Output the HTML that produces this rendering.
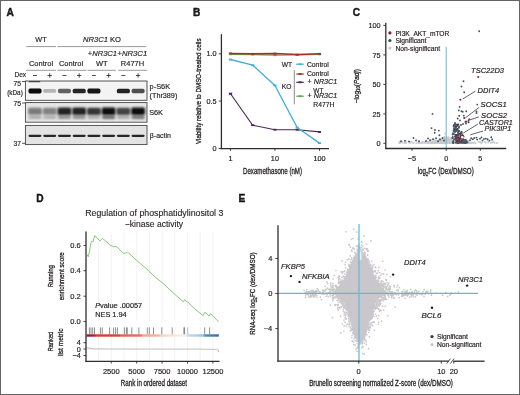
<!DOCTYPE html>
<html><head><meta charset="utf-8"><style>
html,body{margin:0;padding:0;background:#fff;}
svg{display:block;will-change:transform;}
text{font-family:"Liberation Sans", sans-serif;fill:#231f20;stroke:#231f20;stroke-width:0.18px;}
text.cd{stroke-width:0.3px;}
text.nt{stroke-width:0.12px;}
text.pl{stroke:#000;stroke-width:0.35px;}
</style></head><body>
<svg width="520" height="395" viewBox="0 0 520 395">
<defs><filter id="soft" filterUnits="userSpaceOnUse" x="0" y="0" width="520" height="395"><feGaussianBlur stdDeviation="0.3"/></filter></defs>
<rect x="0" y="0" width="520" height="395" fill="#fff"/>
<g filter="url(#soft)">
<text x="6.40" y="15.70" font-size="10.2" font-weight="bold" fill="#000" class="pl">A</text>
<text x="193.00" y="15.70" font-size="10.2" font-weight="bold" fill="#000" class="pl">B</text>
<text x="352.70" y="15.70" font-size="10.2" font-weight="bold" fill="#000" class="pl">C</text>
<text x="36.20" y="201.60" font-size="10.2" font-weight="bold" fill="#000" class="pl">D</text>
<text x="238.50" y="201.60" font-size="10.2" font-weight="bold" fill="#000" class="pl">E</text>
<text x="41.00" y="42.30" font-size="8.1" text-anchor="middle" textLength="11.30" lengthAdjust="spacingAndGlyphs">WT</text>
<text x="83.00" y="42.30" font-size="8.1" textLength="38.00" lengthAdjust="spacingAndGlyphs"><tspan font-style="italic">NR3C1</tspan> KO</text>
<line x1="26.20" y1="46.60" x2="56.00" y2="46.60" stroke="#9a9a9a" stroke-width="1.0"/>
<line x1="57.40" y1="46.60" x2="146.20" y2="46.60" stroke="#9a9a9a" stroke-width="1.0"/>
<text x="87.70" y="56.20" font-size="8.1" textLength="29.40" lengthAdjust="spacingAndGlyphs">+<tspan font-style="italic">NR3C1</tspan></text>
<text x="117.40" y="56.20" font-size="8.1" textLength="29.80" lengthAdjust="spacingAndGlyphs">+<tspan font-style="italic">NR3C1</tspan></text>
<text x="41.00" y="65.50" font-size="8.1" text-anchor="middle" textLength="24.10" lengthAdjust="spacingAndGlyphs">Control</text>
<text x="71.00" y="65.50" font-size="8.1" text-anchor="middle" textLength="24.10" lengthAdjust="spacingAndGlyphs">Control</text>
<text x="101.80" y="65.50" font-size="8.1" text-anchor="middle" textLength="11.70" lengthAdjust="spacingAndGlyphs">WT</text>
<text x="132.50" y="65.50" font-size="8.1" text-anchor="middle" textLength="23.40" lengthAdjust="spacingAndGlyphs">R477H</text>
<line x1="26.20" y1="70.30" x2="56.00" y2="70.30" stroke="#9a9a9a" stroke-width="1.0"/>
<line x1="57.40" y1="70.30" x2="86.50" y2="70.30" stroke="#9a9a9a" stroke-width="1.0"/>
<line x1="87.50" y1="70.30" x2="116.00" y2="70.30" stroke="#9a9a9a" stroke-width="1.0"/>
<line x1="118.20" y1="70.30" x2="147.20" y2="70.30" stroke="#9a9a9a" stroke-width="1.0"/>
<text x="26.20" y="77.30" font-size="8.1" text-anchor="end" textLength="11.80" lengthAdjust="spacingAndGlyphs">Dex</text>
<line x1="33.00" y1="75.50" x2="37.00" y2="75.50" stroke="#231f20" stroke-width="0.8"/>
<line x1="47.53" y1="75.50" x2="51.93" y2="75.50" stroke="#231f20" stroke-width="0.8"/>
<line x1="49.73" y1="73.30" x2="49.73" y2="77.70" stroke="#231f20" stroke-width="0.8"/>
<line x1="62.46" y1="75.50" x2="66.46" y2="75.50" stroke="#231f20" stroke-width="0.8"/>
<line x1="76.99" y1="75.50" x2="81.39" y2="75.50" stroke="#231f20" stroke-width="0.8"/>
<line x1="79.19" y1="73.30" x2="79.19" y2="77.70" stroke="#231f20" stroke-width="0.8"/>
<line x1="91.92" y1="75.50" x2="95.92" y2="75.50" stroke="#231f20" stroke-width="0.8"/>
<line x1="106.45" y1="75.50" x2="110.85" y2="75.50" stroke="#231f20" stroke-width="0.8"/>
<line x1="108.65" y1="73.30" x2="108.65" y2="77.70" stroke="#231f20" stroke-width="0.8"/>
<line x1="121.38" y1="75.50" x2="125.38" y2="75.50" stroke="#231f20" stroke-width="0.8"/>
<line x1="135.91" y1="75.50" x2="140.31" y2="75.50" stroke="#231f20" stroke-width="0.8"/>
<line x1="138.11" y1="73.30" x2="138.11" y2="77.70" stroke="#231f20" stroke-width="0.8"/>
<defs><filter id="bl" x="-20%" y="-80%" width="140%" height="260%"><feGaussianBlur stdDeviation="0.55"/></filter><filter id="bl2" x="-20%" y="-80%" width="140%" height="260%"><feGaussianBlur stdDeviation="0.85"/></filter></defs>
<rect x="25.40" y="81.00" width="121.60" height="19.30" fill="#f3f3f3"/>
<rect x="25.40" y="102.60" width="121.60" height="19.60" fill="#e6e6e6"/>
<rect x="25.40" y="125.40" width="121.60" height="19.20" fill="#e3e3e3"/>
<rect x="28.50" y="88.60" width="13.00" height="4.80" rx="1.60" fill="rgb(13,13,13)" filter="url(#bl)"/>
<rect x="43.23" y="89.12" width="13.00" height="3.75" rx="1.60" fill="rgb(181,181,181)" filter="url(#bl)"/>
<rect x="57.96" y="88.87" width="13.00" height="4.27" rx="1.60" fill="rgb(98,98,98)" filter="url(#bl)"/>
<rect x="72.69" y="88.68" width="13.00" height="4.63" rx="1.60" fill="rgb(40,40,40)" filter="url(#bl)"/>
<rect x="87.42" y="88.62" width="13.00" height="4.76" rx="1.60" fill="rgb(19,19,19)" filter="url(#bl)"/>
<rect x="116.88" y="88.67" width="13.00" height="4.66" rx="1.60" fill="rgb(35,35,35)" filter="url(#bl)"/>
<rect x="131.61" y="88.81" width="13.00" height="4.38" rx="1.60" fill="rgb(80,80,80)" filter="url(#bl)"/>
<rect x="28.75" y="81.10" width="11.50" height="1.20" rx="0.60" fill="rgb(69,69,69)" filter="url(#bl)"/>
<rect x="28.40" y="115.60" width="13.20" height="3.40" rx="1.60" fill="rgb(170,170,170)" filter="url(#bl2)"/>
<rect x="28.10" y="107.84" width="13.80" height="6.93" rx="1.60" fill="rgb(121,121,121)" filter="url(#bl2)"/>
<rect x="43.13" y="115.60" width="13.20" height="3.40" rx="1.60" fill="rgb(175,175,175)" filter="url(#bl2)"/>
<rect x="42.83" y="107.86" width="13.80" height="6.87" rx="1.60" fill="rgb(130,130,130)" filter="url(#bl2)"/>
<rect x="57.86" y="115.60" width="13.20" height="3.40" rx="1.60" fill="rgb(143,143,143)" filter="url(#bl2)"/>
<rect x="57.56" y="107.57" width="13.80" height="7.46" rx="1.60" fill="rgb(35,35,35)" filter="url(#bl2)"/>
<rect x="72.59" y="115.60" width="13.20" height="3.40" rx="1.60" fill="rgb(143,143,143)" filter="url(#bl2)"/>
<rect x="72.29" y="107.57" width="13.80" height="7.46" rx="1.60" fill="rgb(35,35,35)" filter="url(#bl2)"/>
<rect x="87.32" y="115.60" width="13.20" height="3.40" rx="1.60" fill="rgb(170,170,170)" filter="url(#bl2)"/>
<rect x="87.02" y="107.63" width="13.80" height="7.35" rx="1.60" fill="rgb(53,53,53)" filter="url(#bl2)"/>
<rect x="102.05" y="115.60" width="13.20" height="3.40" rx="1.60" fill="rgb(103,103,103)" filter="url(#bl2)"/>
<rect x="101.75" y="107.50" width="13.80" height="7.60" rx="1.60" fill="rgb(13,13,13)" filter="url(#bl2)"/>
<rect x="116.78" y="115.60" width="13.20" height="3.40" rx="1.60" fill="rgb(170,170,170)" filter="url(#bl2)"/>
<rect x="116.48" y="107.67" width="13.80" height="7.26" rx="1.60" fill="rgb(67,67,67)" filter="url(#bl2)"/>
<rect x="131.51" y="115.60" width="13.20" height="3.40" rx="1.60" fill="rgb(114,114,114)" filter="url(#bl2)"/>
<rect x="131.21" y="107.50" width="13.80" height="7.60" rx="1.60" fill="rgb(13,13,13)" filter="url(#bl2)"/>
<rect x="28.50" y="134.65" width="13.00" height="2.30" rx="1.15" fill="rgb(40,40,40)" filter="url(#bl)"/>
<rect x="43.23" y="134.65" width="13.00" height="2.30" rx="1.15" fill="rgb(40,40,40)" filter="url(#bl)"/>
<rect x="57.96" y="134.65" width="13.00" height="2.30" rx="1.15" fill="rgb(40,40,40)" filter="url(#bl)"/>
<rect x="72.69" y="134.65" width="13.00" height="2.30" rx="1.15" fill="rgb(40,40,40)" filter="url(#bl)"/>
<rect x="87.42" y="134.65" width="13.00" height="2.30" rx="1.15" fill="rgb(40,40,40)" filter="url(#bl)"/>
<rect x="102.15" y="134.65" width="13.00" height="2.30" rx="1.15" fill="rgb(40,40,40)" filter="url(#bl)"/>
<rect x="116.88" y="134.65" width="13.00" height="2.30" rx="1.15" fill="rgb(40,40,40)" filter="url(#bl)"/>
<rect x="131.61" y="134.65" width="13.00" height="2.30" rx="1.15" fill="rgb(40,40,40)" filter="url(#bl)"/>
<rect x="25.4" y="81.00" width="121.6" height="19.30" fill="none" stroke="#444" stroke-width="0.9"/>
<rect x="25.4" y="102.60" width="121.6" height="19.60" fill="none" stroke="#444" stroke-width="0.9"/>
<rect x="25.4" y="125.40" width="121.6" height="19.20" fill="none" stroke="#444" stroke-width="0.9"/>
<text x="21.00" y="85.90" font-size="7.9" text-anchor="end" textLength="7.60" lengthAdjust="spacingAndGlyphs">75</text>
<line x1="22.00" y1="81.50" x2="25.40" y2="81.50" stroke="#2e2e2e" stroke-width="0.8"/>
<text x="7.20" y="94.60" font-size="7.9" textLength="15.60" lengthAdjust="spacingAndGlyphs">(kDa)</text>
<text x="21.00" y="105.70" font-size="7.9" text-anchor="end" textLength="7.60" lengthAdjust="spacingAndGlyphs">75</text>
<line x1="22.00" y1="103.00" x2="25.40" y2="103.00" stroke="#2e2e2e" stroke-width="0.8"/>
<text x="21.00" y="145.50" font-size="7.9" text-anchor="end" textLength="7.60" lengthAdjust="spacingAndGlyphs">37</text>
<line x1="22.00" y1="143.30" x2="25.40" y2="143.30" stroke="#2e2e2e" stroke-width="0.8"/>
<text x="149.60" y="88.50" font-size="7.9" textLength="20.60" lengthAdjust="spacingAndGlyphs">p-S6K</text>
<text x="149.60" y="98.00" font-size="7.9" textLength="27.70" lengthAdjust="spacingAndGlyphs">(Thr389)</text>
<text x="149.20" y="115.30" font-size="7.9" textLength="13.80" lengthAdjust="spacingAndGlyphs">S6K</text>
<text x="149.80" y="138.20" font-size="7.9" textLength="21.20" lengthAdjust="spacingAndGlyphs">β-actin</text>
<line x1="221.40" y1="34.20" x2="221.40" y2="149.20" stroke="#2e2e2e" stroke-width="1.3"/>
<line x1="220.80" y1="148.60" x2="329.00" y2="148.60" stroke="#2e2e2e" stroke-width="1.3"/>
<line x1="218.80" y1="53.80" x2="221.30" y2="53.80" stroke="#2e2e2e" stroke-width="0.9"/>
<text x="216.60" y="56.40" font-size="7.3" text-anchor="end">1.0</text>
<line x1="218.80" y1="101.10" x2="221.30" y2="101.10" stroke="#2e2e2e" stroke-width="0.9"/>
<text x="216.60" y="103.70" font-size="7.3" text-anchor="end">0.5</text>
<line x1="218.80" y1="148.50" x2="221.30" y2="148.50" stroke="#2e2e2e" stroke-width="0.9"/>
<text x="216.60" y="151.10" font-size="7.3" text-anchor="end">0</text>
<line x1="230.50" y1="148.60" x2="230.50" y2="150.80" stroke="#2e2e2e" stroke-width="0.9"/>
<text x="230.50" y="161.20" font-size="7.3" text-anchor="middle">1</text>
<line x1="274.90" y1="148.60" x2="274.90" y2="150.80" stroke="#2e2e2e" stroke-width="0.9"/>
<text x="274.90" y="161.20" font-size="7.3" text-anchor="middle">10</text>
<line x1="319.50" y1="148.60" x2="319.50" y2="150.80" stroke="#2e2e2e" stroke-width="0.9"/>
<text x="319.50" y="161.20" font-size="7.3" text-anchor="middle">100</text>
<text x="200.60" y="91.20" font-size="8" text-anchor="middle" class="cd" textLength="105.50" lengthAdjust="spacingAndGlyphs" transform="rotate(-90 200.60 91.20)">Viability relative to DMSO-treated cells</text>
<text x="272.50" y="173.90" font-size="8.4" text-anchor="middle" class="cd" textLength="59.00" lengthAdjust="spacingAndGlyphs">Dexamethasone (nM)</text>
<polyline points="230.50,54.30 252.70,54.50 274.90,55.20 297.20,54.90 319.50,54.40" fill="none" stroke="#5aaa4a" stroke-width="1.3"/>
<rect x="228.90" y="53.40" width="3.20" height="1.80" fill="#5aaa4a"/>
<rect x="251.10" y="53.60" width="3.20" height="1.80" fill="#5aaa4a"/>
<rect x="273.30" y="54.30" width="3.20" height="1.80" fill="#5aaa4a"/>
<rect x="295.60" y="54.00" width="3.20" height="1.80" fill="#5aaa4a"/>
<rect x="317.90" y="53.50" width="3.20" height="1.80" fill="#5aaa4a"/>
<polyline points="230.50,53.40 252.70,53.80 274.90,53.60 297.20,54.60 319.50,53.80" fill="none" stroke="#a82e2a" stroke-width="1.5"/>
<rect x="228.90" y="52.50" width="3.20" height="1.80" fill="#a82e2a"/>
<rect x="251.10" y="52.90" width="3.20" height="1.80" fill="#a82e2a"/>
<rect x="273.30" y="52.70" width="3.20" height="1.80" fill="#a82e2a"/>
<rect x="295.60" y="53.70" width="3.20" height="1.80" fill="#a82e2a"/>
<rect x="317.90" y="52.90" width="3.20" height="1.80" fill="#a82e2a"/>
<polyline points="230.50,93.80 252.70,125.20 274.90,129.70 297.20,129.70 319.50,131.90" fill="none" stroke="#4b2358" stroke-width="1.1"/>
<rect x="228.90" y="92.90" width="3.20" height="1.80" fill="#4b2358"/>
<rect x="251.10" y="124.30" width="3.20" height="1.80" fill="#4b2358"/>
<rect x="273.30" y="128.80" width="3.20" height="1.80" fill="#4b2358"/>
<rect x="295.60" y="128.80" width="3.20" height="1.80" fill="#4b2358"/>
<rect x="317.90" y="131.00" width="3.20" height="1.80" fill="#4b2358"/>
<polyline points="230.50,59.50 252.70,65.20 274.90,85.40 297.20,127.60 319.50,143.10" fill="none" stroke="#45aee0" stroke-width="1.3"/>
<rect x="228.90" y="58.60" width="3.20" height="1.80" fill="#45aee0"/>
<rect x="251.10" y="64.30" width="3.20" height="1.80" fill="#45aee0"/>
<rect x="273.30" y="84.50" width="3.20" height="1.80" fill="#45aee0"/>
<rect x="295.60" y="126.70" width="3.20" height="1.80" fill="#45aee0"/>
<rect x="317.90" y="142.20" width="3.20" height="1.80" fill="#45aee0"/>
<line x1="229.00" y1="92.30" x2="232.00" y2="95.30" stroke="#4b2358" stroke-width="0.6"/>
<line x1="229.00" y1="95.30" x2="232.00" y2="92.30" stroke="#4b2358" stroke-width="0.6"/>
<text x="281.80" y="66.80" font-size="7.5" textLength="10.40" lengthAdjust="spacingAndGlyphs">WT</text>
<line x1="296.00" y1="64.20" x2="303.80" y2="64.20" stroke="#45aee0" stroke-width="1.2"/>
<rect x="298.60" y="63.30" width="3.00" height="1.80" fill="#45aee0"/>
<text x="306.90" y="66.60" font-size="7.5" textLength="22.00" lengthAdjust="spacingAndGlyphs">Control</text>
<line x1="294.30" y1="70.20" x2="294.30" y2="104.30" stroke="#8c8c8c" stroke-width="1"/>
<text x="281.80" y="88.70" font-size="7.5" textLength="9.60" lengthAdjust="spacingAndGlyphs">KO</text>
<line x1="296.30" y1="74.00" x2="303.80" y2="74.00" stroke="#a82e2a" stroke-width="1.2"/>
<rect x="298.60" y="73.10" width="3.00" height="1.80" fill="#a82e2a"/>
<text x="306.90" y="76.40" font-size="7.5" textLength="22.00" lengthAdjust="spacingAndGlyphs">Control</text>
<line x1="296.30" y1="82.30" x2="303.80" y2="82.30" stroke="#4b2358" stroke-width="1.2"/>
<rect x="298.60" y="81.40" width="3.00" height="1.80" fill="#4b2358"/>
<text x="307.50" y="84.40" font-size="7.5" textLength="29.80" lengthAdjust="spacingAndGlyphs">+ <tspan font-style="italic">NR3C1</tspan></text>
<text x="313.30" y="92.80" font-size="7.5" textLength="10.10" lengthAdjust="spacingAndGlyphs">WT</text>
<line x1="296.30" y1="96.20" x2="303.80" y2="96.20" stroke="#5aaa4a" stroke-width="1.2"/>
<rect x="298.60" y="95.30" width="3.00" height="1.80" fill="#5aaa4a"/>
<text x="307.50" y="98.20" font-size="7.5" textLength="29.80" lengthAdjust="spacingAndGlyphs">+ <tspan font-style="italic">NR3C1</tspan></text>
<text x="313.30" y="106.70" font-size="7.5" textLength="21.10" lengthAdjust="spacingAndGlyphs">R477H</text>
<circle cx="436.99" cy="142.65" r="0.9" fill="#c9c9cc"/>
<circle cx="448.12" cy="140.90" r="0.9" fill="#c9c9cc"/>
<circle cx="428.41" cy="141.93" r="0.9" fill="#c9c9cc"/>
<circle cx="457.74" cy="142.26" r="0.9" fill="#c9c9cc"/>
<circle cx="466.82" cy="142.52" r="0.9" fill="#c9c9cc"/>
<circle cx="399.81" cy="142.09" r="0.9" fill="#c9c9cc"/>
<circle cx="422.32" cy="143.23" r="0.9" fill="#c9c9cc"/>
<circle cx="454.45" cy="142.80" r="0.9" fill="#c9c9cc"/>
<circle cx="438.59" cy="141.73" r="0.9" fill="#c9c9cc"/>
<circle cx="440.34" cy="141.33" r="0.9" fill="#c9c9cc"/>
<circle cx="445.81" cy="141.64" r="0.9" fill="#c9c9cc"/>
<circle cx="445.50" cy="139.80" r="0.9" fill="#c9c9cc"/>
<circle cx="454.73" cy="141.13" r="0.9" fill="#c9c9cc"/>
<circle cx="451.36" cy="140.39" r="0.9" fill="#c9c9cc"/>
<circle cx="450.15" cy="141.14" r="0.9" fill="#c9c9cc"/>
<circle cx="431.31" cy="142.47" r="0.9" fill="#c9c9cc"/>
<circle cx="422.76" cy="142.90" r="0.9" fill="#c9c9cc"/>
<circle cx="448.33" cy="142.13" r="0.9" fill="#c9c9cc"/>
<circle cx="454.85" cy="142.17" r="0.9" fill="#c9c9cc"/>
<circle cx="440.05" cy="142.03" r="0.9" fill="#c9c9cc"/>
<circle cx="452.00" cy="142.26" r="0.9" fill="#c9c9cc"/>
<circle cx="450.08" cy="141.66" r="0.9" fill="#c9c9cc"/>
<circle cx="496.44" cy="143.11" r="0.9" fill="#c9c9cc"/>
<circle cx="451.86" cy="142.17" r="0.9" fill="#c9c9cc"/>
<circle cx="449.13" cy="143.00" r="0.9" fill="#c9c9cc"/>
<circle cx="456.39" cy="140.72" r="0.9" fill="#c9c9cc"/>
<circle cx="436.41" cy="143.13" r="0.9" fill="#c9c9cc"/>
<circle cx="450.17" cy="142.07" r="0.9" fill="#c9c9cc"/>
<circle cx="450.76" cy="140.73" r="0.9" fill="#c9c9cc"/>
<circle cx="463.60" cy="142.42" r="0.9" fill="#c9c9cc"/>
<circle cx="402.16" cy="142.54" r="0.9" fill="#c9c9cc"/>
<circle cx="444.91" cy="139.76" r="0.9" fill="#c9c9cc"/>
<circle cx="469.76" cy="142.80" r="0.9" fill="#c9c9cc"/>
<circle cx="451.12" cy="142.06" r="0.9" fill="#c9c9cc"/>
<circle cx="437.89" cy="142.54" r="0.9" fill="#c9c9cc"/>
<circle cx="452.13" cy="142.69" r="0.9" fill="#c9c9cc"/>
<circle cx="447.94" cy="142.38" r="0.9" fill="#c9c9cc"/>
<circle cx="435.94" cy="141.60" r="0.9" fill="#c9c9cc"/>
<circle cx="436.58" cy="143.09" r="0.9" fill="#c9c9cc"/>
<circle cx="462.62" cy="143.04" r="0.9" fill="#c9c9cc"/>
<circle cx="447.72" cy="140.34" r="0.9" fill="#c9c9cc"/>
<circle cx="447.56" cy="142.88" r="0.9" fill="#c9c9cc"/>
<circle cx="434.41" cy="142.80" r="0.9" fill="#c9c9cc"/>
<circle cx="445.25" cy="140.10" r="0.9" fill="#c9c9cc"/>
<circle cx="442.63" cy="139.92" r="0.9" fill="#c9c9cc"/>
<circle cx="434.66" cy="142.37" r="0.9" fill="#c9c9cc"/>
<circle cx="436.75" cy="142.44" r="0.9" fill="#c9c9cc"/>
<circle cx="461.74" cy="141.12" r="0.9" fill="#c9c9cc"/>
<circle cx="445.55" cy="139.89" r="0.9" fill="#c9c9cc"/>
<circle cx="439.12" cy="141.80" r="0.9" fill="#c9c9cc"/>
<circle cx="457.96" cy="142.54" r="0.9" fill="#c9c9cc"/>
<circle cx="446.85" cy="141.79" r="0.9" fill="#c9c9cc"/>
<circle cx="428.18" cy="142.91" r="0.9" fill="#c9c9cc"/>
<circle cx="488.15" cy="142.66" r="0.9" fill="#c9c9cc"/>
<circle cx="441.85" cy="141.49" r="0.9" fill="#c9c9cc"/>
<circle cx="441.06" cy="140.29" r="0.9" fill="#c9c9cc"/>
<circle cx="451.61" cy="142.36" r="0.9" fill="#c9c9cc"/>
<circle cx="449.92" cy="139.98" r="0.9" fill="#c9c9cc"/>
<circle cx="441.76" cy="140.14" r="0.9" fill="#c9c9cc"/>
<circle cx="453.39" cy="142.41" r="0.9" fill="#c9c9cc"/>
<circle cx="440.02" cy="141.15" r="0.9" fill="#c9c9cc"/>
<circle cx="428.13" cy="143.06" r="0.9" fill="#c9c9cc"/>
<circle cx="447.06" cy="140.90" r="0.9" fill="#c9c9cc"/>
<circle cx="440.36" cy="142.42" r="0.9" fill="#c9c9cc"/>
<circle cx="446.69" cy="140.74" r="0.9" fill="#c9c9cc"/>
<circle cx="460.72" cy="142.72" r="0.9" fill="#c9c9cc"/>
<circle cx="436.18" cy="142.76" r="0.9" fill="#c9c9cc"/>
<circle cx="428.44" cy="142.92" r="0.9" fill="#c9c9cc"/>
<circle cx="399.39" cy="141.64" r="0.9" fill="#c9c9cc"/>
<circle cx="425.33" cy="142.37" r="0.9" fill="#c9c9cc"/>
<circle cx="455.79" cy="141.80" r="0.9" fill="#c9c9cc"/>
<circle cx="435.74" cy="142.13" r="0.9" fill="#c9c9cc"/>
<circle cx="461.12" cy="142.02" r="0.9" fill="#c9c9cc"/>
<circle cx="451.87" cy="141.67" r="0.9" fill="#c9c9cc"/>
<circle cx="442.28" cy="140.31" r="0.9" fill="#c9c9cc"/>
<circle cx="454.09" cy="142.67" r="0.9" fill="#c9c9cc"/>
<circle cx="457.76" cy="142.24" r="0.9" fill="#c9c9cc"/>
<circle cx="487.58" cy="140.40" r="0.9" fill="#c9c9cc"/>
<circle cx="443.67" cy="141.70" r="0.9" fill="#c9c9cc"/>
<circle cx="458.70" cy="142.18" r="0.9" fill="#c9c9cc"/>
<circle cx="453.24" cy="142.64" r="0.9" fill="#c9c9cc"/>
<circle cx="478.57" cy="141.55" r="0.9" fill="#c9c9cc"/>
<circle cx="431.55" cy="143.16" r="0.9" fill="#c9c9cc"/>
<circle cx="449.55" cy="140.26" r="0.9" fill="#c9c9cc"/>
<circle cx="439.45" cy="140.63" r="0.9" fill="#c9c9cc"/>
<circle cx="450.55" cy="140.96" r="0.9" fill="#c9c9cc"/>
<circle cx="440.32" cy="141.58" r="0.9" fill="#c9c9cc"/>
<circle cx="443.81" cy="139.12" r="0.9" fill="#c9c9cc"/>
<circle cx="450.01" cy="139.58" r="0.9" fill="#c9c9cc"/>
<circle cx="451.47" cy="141.82" r="0.9" fill="#c9c9cc"/>
<circle cx="465.77" cy="142.81" r="0.9" fill="#c9c9cc"/>
<circle cx="435.23" cy="142.18" r="0.9" fill="#c9c9cc"/>
<circle cx="451.75" cy="141.11" r="0.9" fill="#c9c9cc"/>
<circle cx="455.93" cy="143.03" r="0.9" fill="#c9c9cc"/>
<circle cx="451.80" cy="141.60" r="0.9" fill="#c9c9cc"/>
<circle cx="441.19" cy="141.36" r="0.9" fill="#c9c9cc"/>
<circle cx="449.73" cy="142.14" r="0.9" fill="#c9c9cc"/>
<circle cx="466.46" cy="142.86" r="0.9" fill="#c9c9cc"/>
<circle cx="452.54" cy="141.13" r="0.9" fill="#c9c9cc"/>
<circle cx="452.65" cy="142.10" r="0.9" fill="#c9c9cc"/>
<circle cx="454.96" cy="142.29" r="0.9" fill="#c9c9cc"/>
<circle cx="460.93" cy="143.19" r="0.9" fill="#c9c9cc"/>
<circle cx="440.24" cy="140.96" r="0.9" fill="#c9c9cc"/>
<circle cx="471.79" cy="142.45" r="0.9" fill="#c9c9cc"/>
<circle cx="431.12" cy="142.35" r="0.9" fill="#c9c9cc"/>
<circle cx="497.34" cy="142.87" r="0.9" fill="#c9c9cc"/>
<circle cx="470.38" cy="143.27" r="0.9" fill="#c9c9cc"/>
<circle cx="449.59" cy="140.46" r="0.9" fill="#c9c9cc"/>
<circle cx="451.57" cy="141.86" r="0.9" fill="#c9c9cc"/>
<circle cx="446.76" cy="138.14" r="0.9" fill="#c9c9cc"/>
<circle cx="452.88" cy="141.34" r="0.9" fill="#c9c9cc"/>
<circle cx="405.32" cy="143.07" r="0.9" fill="#c9c9cc"/>
<circle cx="447.49" cy="141.70" r="0.9" fill="#c9c9cc"/>
<circle cx="481.65" cy="142.76" r="0.9" fill="#c9c9cc"/>
<circle cx="404.46" cy="143.15" r="0.9" fill="#c9c9cc"/>
<circle cx="454.19" cy="142.70" r="0.9" fill="#c9c9cc"/>
<circle cx="453.68" cy="141.66" r="0.9" fill="#c9c9cc"/>
<circle cx="457.85" cy="143.16" r="0.9" fill="#c9c9cc"/>
<circle cx="449.66" cy="141.47" r="0.9" fill="#c9c9cc"/>
<circle cx="449.16" cy="140.76" r="0.9" fill="#c9c9cc"/>
<circle cx="449.95" cy="140.79" r="0.9" fill="#c9c9cc"/>
<circle cx="440.64" cy="140.20" r="0.9" fill="#c9c9cc"/>
<circle cx="448.16" cy="142.42" r="0.9" fill="#c9c9cc"/>
<circle cx="433.15" cy="141.42" r="0.9" fill="#c9c9cc"/>
<circle cx="455.16" cy="142.25" r="0.9" fill="#c9c9cc"/>
<circle cx="446.93" cy="140.59" r="0.9" fill="#c9c9cc"/>
<circle cx="449.15" cy="142.21" r="0.9" fill="#c9c9cc"/>
<circle cx="492.01" cy="142.16" r="0.9" fill="#c9c9cc"/>
<circle cx="442.76" cy="140.89" r="0.9" fill="#c9c9cc"/>
<circle cx="442.27" cy="141.78" r="0.9" fill="#c9c9cc"/>
<circle cx="442.36" cy="139.77" r="0.9" fill="#c9c9cc"/>
<circle cx="447.69" cy="141.42" r="0.9" fill="#c9c9cc"/>
<circle cx="450.91" cy="142.37" r="0.9" fill="#c9c9cc"/>
<circle cx="449.52" cy="141.57" r="0.9" fill="#c9c9cc"/>
<circle cx="455.74" cy="142.84" r="0.9" fill="#c9c9cc"/>
<circle cx="457.58" cy="143.28" r="0.9" fill="#c9c9cc"/>
<circle cx="443.92" cy="141.08" r="0.9" fill="#c9c9cc"/>
<circle cx="450.48" cy="139.43" r="0.9" fill="#c9c9cc"/>
<circle cx="452.72" cy="141.71" r="0.9" fill="#c9c9cc"/>
<circle cx="442.10" cy="141.68" r="0.9" fill="#c9c9cc"/>
<circle cx="443.92" cy="142.98" r="0.9" fill="#c9c9cc"/>
<circle cx="473.17" cy="142.99" r="0.9" fill="#c9c9cc"/>
<circle cx="433.83" cy="141.85" r="0.9" fill="#c9c9cc"/>
<circle cx="467.63" cy="142.31" r="0.9" fill="#c9c9cc"/>
<circle cx="460.83" cy="142.27" r="0.9" fill="#c9c9cc"/>
<circle cx="450.23" cy="140.99" r="0.9" fill="#c9c9cc"/>
<circle cx="441.57" cy="141.08" r="0.9" fill="#c9c9cc"/>
<circle cx="443.24" cy="142.00" r="0.9" fill="#c9c9cc"/>
<circle cx="450.70" cy="141.58" r="0.9" fill="#c9c9cc"/>
<circle cx="442.11" cy="141.12" r="0.9" fill="#c9c9cc"/>
<circle cx="442.32" cy="138.79" r="0.9" fill="#c9c9cc"/>
<circle cx="409.61" cy="142.79" r="0.9" fill="#c9c9cc"/>
<circle cx="456.50" cy="142.14" r="0.9" fill="#c9c9cc"/>
<circle cx="442.41" cy="141.00" r="0.9" fill="#c9c9cc"/>
<circle cx="442.21" cy="142.44" r="0.9" fill="#c9c9cc"/>
<circle cx="446.34" cy="139.90" r="0.9" fill="#c9c9cc"/>
<circle cx="425.19" cy="141.98" r="0.9" fill="#c9c9cc"/>
<circle cx="452.04" cy="142.72" r="0.9" fill="#c9c9cc"/>
<circle cx="441.95" cy="141.11" r="0.9" fill="#c9c9cc"/>
<circle cx="432.41" cy="143.23" r="0.9" fill="#c9c9cc"/>
<circle cx="410.20" cy="142.76" r="0.9" fill="#c9c9cc"/>
<circle cx="436.40" cy="142.95" r="0.9" fill="#c9c9cc"/>
<circle cx="445.50" cy="137.98" r="0.9" fill="#c9c9cc"/>
<circle cx="427.58" cy="141.62" r="0.9" fill="#c9c9cc"/>
<circle cx="442.45" cy="141.82" r="0.9" fill="#c9c9cc"/>
<circle cx="406.55" cy="142.06" r="0.9" fill="#c9c9cc"/>
<circle cx="438.23" cy="142.57" r="0.9" fill="#c9c9cc"/>
<circle cx="419.47" cy="143.07" r="0.9" fill="#c9c9cc"/>
<circle cx="443.56" cy="140.65" r="0.9" fill="#c9c9cc"/>
<circle cx="445.34" cy="142.44" r="0.9" fill="#c9c9cc"/>
<circle cx="468.67" cy="141.14" r="0.9" fill="#c9c9cc"/>
<circle cx="439.09" cy="141.96" r="0.9" fill="#c9c9cc"/>
<circle cx="448.30" cy="139.26" r="0.9" fill="#c9c9cc"/>
<circle cx="456.57" cy="143.29" r="0.9" fill="#c9c9cc"/>
<circle cx="453.33" cy="142.11" r="0.9" fill="#c9c9cc"/>
<circle cx="442.43" cy="142.36" r="0.9" fill="#c9c9cc"/>
<circle cx="437.22" cy="142.63" r="0.9" fill="#c9c9cc"/>
<circle cx="447.07" cy="138.80" r="0.9" fill="#c9c9cc"/>
<circle cx="447.46" cy="138.78" r="0.9" fill="#c9c9cc"/>
<circle cx="452.55" cy="141.66" r="0.9" fill="#c9c9cc"/>
<circle cx="471.42" cy="142.94" r="0.9" fill="#c9c9cc"/>
<circle cx="444.32" cy="139.96" r="0.9" fill="#c9c9cc"/>
<circle cx="474.23" cy="142.66" r="0.9" fill="#c9c9cc"/>
<circle cx="433.52" cy="143.06" r="0.9" fill="#c9c9cc"/>
<circle cx="435.84" cy="140.92" r="0.9" fill="#c9c9cc"/>
<circle cx="436.87" cy="143.14" r="0.9" fill="#c9c9cc"/>
<circle cx="430.07" cy="142.57" r="0.9" fill="#c9c9cc"/>
<circle cx="436.30" cy="142.47" r="0.9" fill="#c9c9cc"/>
<circle cx="460.68" cy="141.58" r="0.9" fill="#c9c9cc"/>
<circle cx="434.49" cy="143.05" r="0.9" fill="#c9c9cc"/>
<circle cx="471.84" cy="142.78" r="0.9" fill="#c9c9cc"/>
<circle cx="418.59" cy="143.24" r="0.9" fill="#c9c9cc"/>
<circle cx="440.63" cy="142.12" r="0.9" fill="#c9c9cc"/>
<circle cx="462.59" cy="143.19" r="0.9" fill="#c9c9cc"/>
<circle cx="443.82" cy="139.49" r="0.9" fill="#c9c9cc"/>
<circle cx="419.88" cy="143.18" r="0.9" fill="#c9c9cc"/>
<circle cx="447.29" cy="141.42" r="0.9" fill="#c9c9cc"/>
<circle cx="450.95" cy="140.77" r="0.9" fill="#c9c9cc"/>
<circle cx="442.61" cy="141.00" r="0.9" fill="#c9c9cc"/>
<circle cx="446.95" cy="141.54" r="0.9" fill="#c9c9cc"/>
<circle cx="428.15" cy="142.52" r="0.9" fill="#c9c9cc"/>
<circle cx="446.64" cy="142.33" r="0.9" fill="#c9c9cc"/>
<circle cx="439.17" cy="142.40" r="0.9" fill="#c9c9cc"/>
<circle cx="399.40" cy="143.20" r="0.9" fill="#c9c9cc"/>
<circle cx="439.05" cy="142.92" r="0.9" fill="#c9c9cc"/>
<circle cx="413.88" cy="142.94" r="0.9" fill="#c9c9cc"/>
<circle cx="451.45" cy="141.65" r="0.9" fill="#c9c9cc"/>
<circle cx="452.12" cy="142.36" r="0.9" fill="#c9c9cc"/>
<circle cx="479.79" cy="142.18" r="0.9" fill="#c9c9cc"/>
<circle cx="425.09" cy="143.20" r="0.9" fill="#c9c9cc"/>
<circle cx="442.87" cy="140.00" r="0.9" fill="#c9c9cc"/>
<circle cx="433.50" cy="142.21" r="0.9" fill="#c9c9cc"/>
<circle cx="448.11" cy="139.51" r="0.9" fill="#c9c9cc"/>
<circle cx="452.21" cy="142.60" r="0.9" fill="#c9c9cc"/>
<circle cx="449.40" cy="141.39" r="0.9" fill="#c9c9cc"/>
<circle cx="449.15" cy="141.69" r="0.9" fill="#c9c9cc"/>
<circle cx="444.83" cy="138.17" r="0.9" fill="#c9c9cc"/>
<circle cx="450.87" cy="143.05" r="0.9" fill="#c9c9cc"/>
<circle cx="454.27" cy="142.07" r="0.9" fill="#c9c9cc"/>
<circle cx="446.48" cy="141.74" r="0.9" fill="#c9c9cc"/>
<circle cx="441.55" cy="141.77" r="0.9" fill="#c9c9cc"/>
<circle cx="444.63" cy="140.40" r="0.9" fill="#c9c9cc"/>
<circle cx="446.00" cy="140.19" r="0.9" fill="#c9c9cc"/>
<circle cx="462.11" cy="143.14" r="0.9" fill="#c9c9cc"/>
<circle cx="439.54" cy="142.59" r="0.9" fill="#c9c9cc"/>
<circle cx="455.59" cy="142.33" r="0.9" fill="#c9c9cc"/>
<circle cx="453.10" cy="142.75" r="0.9" fill="#c9c9cc"/>
<circle cx="438.67" cy="141.54" r="0.9" fill="#c9c9cc"/>
<circle cx="453.67" cy="141.71" r="0.9" fill="#c9c9cc"/>
<circle cx="447.68" cy="140.42" r="0.9" fill="#c9c9cc"/>
<circle cx="438.06" cy="141.18" r="0.9" fill="#c9c9cc"/>
<circle cx="448.93" cy="140.40" r="0.9" fill="#c9c9cc"/>
<circle cx="446.98" cy="142.25" r="0.9" fill="#c9c9cc"/>
<circle cx="439.75" cy="141.93" r="0.9" fill="#c9c9cc"/>
<circle cx="474.34" cy="142.20" r="0.9" fill="#c9c9cc"/>
<circle cx="440.77" cy="142.71" r="0.9" fill="#c9c9cc"/>
<circle cx="441.16" cy="139.82" r="0.9" fill="#c9c9cc"/>
<circle cx="492.03" cy="142.81" r="0.9" fill="#c9c9cc"/>
<circle cx="422.58" cy="141.84" r="0.9" fill="#c9c9cc"/>
<circle cx="440.82" cy="141.98" r="0.9" fill="#c9c9cc"/>
<circle cx="442.43" cy="141.26" r="0.9" fill="#c9c9cc"/>
<circle cx="458.46" cy="142.04" r="0.9" fill="#c9c9cc"/>
<circle cx="442.61" cy="138.20" r="0.9" fill="#c9c9cc"/>
<circle cx="480.11" cy="141.99" r="0.9" fill="#c9c9cc"/>
<circle cx="455.21" cy="141.02" r="0.9" fill="#c9c9cc"/>
<circle cx="441.99" cy="142.91" r="0.9" fill="#c9c9cc"/>
<circle cx="455.63" cy="140.39" r="0.9" fill="#c9c9cc"/>
<circle cx="440.79" cy="142.24" r="0.9" fill="#c9c9cc"/>
<circle cx="418.11" cy="142.25" r="0.9" fill="#c9c9cc"/>
<circle cx="442.10" cy="142.47" r="0.9" fill="#c9c9cc"/>
<circle cx="444.23" cy="140.97" r="0.9" fill="#c9c9cc"/>
<circle cx="464.87" cy="141.98" r="0.9" fill="#c9c9cc"/>
<circle cx="457.89" cy="141.18" r="0.9" fill="#c9c9cc"/>
<circle cx="438.59" cy="142.75" r="0.9" fill="#c9c9cc"/>
<circle cx="434.44" cy="139.88" r="0.9" fill="#c9c9cc"/>
<circle cx="448.37" cy="141.27" r="0.9" fill="#c9c9cc"/>
<circle cx="437.30" cy="142.41" r="0.9" fill="#c9c9cc"/>
<circle cx="444.71" cy="141.63" r="0.9" fill="#c9c9cc"/>
<circle cx="457.59" cy="142.72" r="0.9" fill="#c9c9cc"/>
<circle cx="445.05" cy="141.02" r="0.9" fill="#c9c9cc"/>
<circle cx="410.66" cy="142.11" r="0.9" fill="#c9c9cc"/>
<circle cx="449.11" cy="141.00" r="0.9" fill="#c9c9cc"/>
<circle cx="440.71" cy="142.60" r="0.9" fill="#c9c9cc"/>
<circle cx="488.70" cy="141.76" r="0.9" fill="#c9c9cc"/>
<circle cx="443.87" cy="140.20" r="0.9" fill="#c9c9cc"/>
<circle cx="448.40" cy="140.94" r="0.9" fill="#c9c9cc"/>
<circle cx="444.25" cy="140.86" r="0.9" fill="#c9c9cc"/>
<circle cx="428.00" cy="143.29" r="0.9" fill="#c9c9cc"/>
<circle cx="444.97" cy="142.21" r="0.9" fill="#c9c9cc"/>
<circle cx="439.26" cy="142.91" r="0.9" fill="#c9c9cc"/>
<circle cx="461.99" cy="142.86" r="0.9" fill="#c9c9cc"/>
<circle cx="428.66" cy="143.28" r="0.9" fill="#c9c9cc"/>
<circle cx="441.16" cy="141.14" r="0.9" fill="#c9c9cc"/>
<circle cx="481.42" cy="142.57" r="0.9" fill="#c9c9cc"/>
<circle cx="485.57" cy="142.59" r="0.9" fill="#c9c9cc"/>
<circle cx="446.05" cy="138.49" r="0.9" fill="#c9c9cc"/>
<circle cx="449.59" cy="141.97" r="0.9" fill="#c9c9cc"/>
<circle cx="461.11" cy="143.17" r="0.9" fill="#c9c9cc"/>
<circle cx="442.26" cy="141.69" r="0.9" fill="#c9c9cc"/>
<circle cx="450.90" cy="142.75" r="0.9" fill="#c9c9cc"/>
<circle cx="421.67" cy="142.34" r="0.9" fill="#c9c9cc"/>
<circle cx="434.77" cy="142.14" r="0.9" fill="#c9c9cc"/>
<circle cx="432.90" cy="143.18" r="0.9" fill="#c9c9cc"/>
<circle cx="452.51" cy="142.30" r="0.9" fill="#c9c9cc"/>
<circle cx="444.12" cy="141.01" r="0.9" fill="#c9c9cc"/>
<circle cx="449.58" cy="141.38" r="0.9" fill="#c9c9cc"/>
<circle cx="444.97" cy="141.20" r="0.9" fill="#c9c9cc"/>
<circle cx="449.41" cy="142.10" r="0.9" fill="#c9c9cc"/>
<circle cx="441.59" cy="142.79" r="0.9" fill="#c9c9cc"/>
<circle cx="446.05" cy="141.23" r="0.9" fill="#c9c9cc"/>
<circle cx="453.46" cy="142.40" r="0.9" fill="#c9c9cc"/>
<circle cx="440.59" cy="141.90" r="0.9" fill="#c9c9cc"/>
<circle cx="431.67" cy="143.23" r="0.9" fill="#c9c9cc"/>
<circle cx="475.65" cy="142.96" r="0.9" fill="#c9c9cc"/>
<circle cx="442.00" cy="141.73" r="0.9" fill="#c9c9cc"/>
<circle cx="433.11" cy="143.19" r="0.9" fill="#c9c9cc"/>
<circle cx="455.85" cy="143.01" r="0.9" fill="#c9c9cc"/>
<circle cx="436.42" cy="142.29" r="0.9" fill="#c9c9cc"/>
<circle cx="400.08" cy="142.17" r="0.9" fill="#c9c9cc"/>
<circle cx="446.40" cy="139.43" r="0.9" fill="#c9c9cc"/>
<circle cx="460.94" cy="142.28" r="0.9" fill="#c9c9cc"/>
<circle cx="412.82" cy="142.80" r="0.9" fill="#c9c9cc"/>
<circle cx="445.37" cy="141.28" r="0.9" fill="#c9c9cc"/>
<circle cx="439.86" cy="142.73" r="0.9" fill="#c9c9cc"/>
<circle cx="448.18" cy="141.30" r="0.9" fill="#c9c9cc"/>
<circle cx="455.92" cy="143.18" r="0.9" fill="#c9c9cc"/>
<circle cx="494.58" cy="142.76" r="0.9" fill="#c9c9cc"/>
<circle cx="454.62" cy="142.77" r="0.9" fill="#c9c9cc"/>
<circle cx="445.84" cy="142.71" r="0.9" fill="#c9c9cc"/>
<circle cx="437.29" cy="140.98" r="0.9" fill="#c9c9cc"/>
<circle cx="401.72" cy="141.50" r="0.9" fill="#c9c9cc"/>
<circle cx="445.89" cy="141.64" r="0.9" fill="#c9c9cc"/>
<circle cx="440.90" cy="142.16" r="0.9" fill="#c9c9cc"/>
<circle cx="443.25" cy="141.61" r="0.9" fill="#c9c9cc"/>
<circle cx="453.61" cy="142.53" r="0.9" fill="#c9c9cc"/>
<circle cx="448.68" cy="140.75" r="0.9" fill="#c9c9cc"/>
<circle cx="452.54" cy="142.09" r="0.9" fill="#c9c9cc"/>
<circle cx="440.05" cy="142.32" r="0.9" fill="#c9c9cc"/>
<circle cx="418.52" cy="142.07" r="0.9" fill="#c9c9cc"/>
<circle cx="448.07" cy="136.94" r="0.9" fill="#c9c9cc"/>
<circle cx="453.97" cy="142.57" r="0.9" fill="#c9c9cc"/>
<circle cx="444.03" cy="142.15" r="0.9" fill="#c9c9cc"/>
<circle cx="416.38" cy="143.22" r="0.9" fill="#c9c9cc"/>
<circle cx="453.70" cy="142.68" r="0.9" fill="#c9c9cc"/>
<circle cx="443.41" cy="141.15" r="0.9" fill="#c9c9cc"/>
<circle cx="456.09" cy="143.11" r="0.9" fill="#c9c9cc"/>
<circle cx="485.84" cy="142.36" r="0.9" fill="#c9c9cc"/>
<circle cx="440.32" cy="140.82" r="0.9" fill="#c9c9cc"/>
<circle cx="402.37" cy="142.47" r="0.9" fill="#c9c9cc"/>
<circle cx="429.29" cy="142.12" r="0.9" fill="#c9c9cc"/>
<circle cx="468.40" cy="143.19" r="0.9" fill="#c9c9cc"/>
<circle cx="458.27" cy="142.87" r="0.9" fill="#c9c9cc"/>
<circle cx="450.27" cy="141.78" r="0.9" fill="#c9c9cc"/>
<circle cx="427.29" cy="141.91" r="0.9" fill="#c9c9cc"/>
<circle cx="400.75" cy="142.69" r="0.9" fill="#c9c9cc"/>
<circle cx="439.56" cy="141.67" r="0.9" fill="#c9c9cc"/>
<circle cx="445.23" cy="142.00" r="0.9" fill="#c9c9cc"/>
<circle cx="442.04" cy="141.21" r="0.9" fill="#c9c9cc"/>
<circle cx="442.15" cy="141.63" r="0.9" fill="#c9c9cc"/>
<circle cx="444.13" cy="142.13" r="0.9" fill="#c9c9cc"/>
<circle cx="453.98" cy="142.28" r="0.9" fill="#c9c9cc"/>
<circle cx="441.71" cy="143.17" r="0.9" fill="#c9c9cc"/>
<circle cx="449.52" cy="142.38" r="0.9" fill="#c9c9cc"/>
<circle cx="436.04" cy="142.48" r="0.9" fill="#c9c9cc"/>
<circle cx="444.65" cy="142.56" r="0.9" fill="#c9c9cc"/>
<circle cx="444.12" cy="141.46" r="0.9" fill="#c9c9cc"/>
<circle cx="441.85" cy="143.03" r="0.9" fill="#c9c9cc"/>
<circle cx="437.11" cy="141.44" r="0.9" fill="#c9c9cc"/>
<circle cx="444.86" cy="138.28" r="0.9" fill="#c9c9cc"/>
<circle cx="439.79" cy="142.09" r="0.9" fill="#c9c9cc"/>
<circle cx="435.72" cy="142.37" r="0.9" fill="#c9c9cc"/>
<circle cx="450.34" cy="139.96" r="0.9" fill="#c9c9cc"/>
<circle cx="411.79" cy="141.73" r="0.9" fill="#c9c9cc"/>
<circle cx="439.74" cy="142.82" r="0.9" fill="#c9c9cc"/>
<circle cx="420.98" cy="142.97" r="0.9" fill="#c9c9cc"/>
<circle cx="452.26" cy="142.28" r="0.9" fill="#c9c9cc"/>
<circle cx="435.30" cy="143.24" r="0.9" fill="#c9c9cc"/>
<circle cx="439.35" cy="141.72" r="0.9" fill="#c9c9cc"/>
<circle cx="444.88" cy="141.55" r="0.9" fill="#c9c9cc"/>
<circle cx="443.74" cy="138.77" r="0.9" fill="#c9c9cc"/>
<circle cx="459.97" cy="141.93" r="0.9" fill="#c9c9cc"/>
<circle cx="446.77" cy="139.66" r="0.9" fill="#c9c9cc"/>
<circle cx="430.55" cy="143.13" r="0.9" fill="#c9c9cc"/>
<circle cx="404.59" cy="142.15" r="0.9" fill="#c9c9cc"/>
<circle cx="449.37" cy="141.87" r="0.9" fill="#c9c9cc"/>
<circle cx="451.57" cy="142.60" r="0.9" fill="#c9c9cc"/>
<circle cx="423.50" cy="141.70" r="0.9" fill="#c9c9cc"/>
<circle cx="432.79" cy="143.21" r="0.9" fill="#c9c9cc"/>
<circle cx="444.98" cy="141.73" r="0.9" fill="#c9c9cc"/>
<circle cx="452.21" cy="140.82" r="0.9" fill="#c9c9cc"/>
<circle cx="439.04" cy="141.98" r="0.9" fill="#c9c9cc"/>
<circle cx="436.30" cy="142.52" r="0.9" fill="#c9c9cc"/>
<circle cx="399.68" cy="142.63" r="0.9" fill="#c9c9cc"/>
<circle cx="430.82" cy="142.01" r="0.9" fill="#c9c9cc"/>
<circle cx="453.86" cy="141.73" r="0.9" fill="#c9c9cc"/>
<circle cx="440.64" cy="142.94" r="0.9" fill="#c9c9cc"/>
<circle cx="426.69" cy="142.78" r="0.9" fill="#c9c9cc"/>
<circle cx="431.06" cy="139.95" r="0.9" fill="#c9c9cc"/>
<circle cx="455.48" cy="142.96" r="0.9" fill="#c9c9cc"/>
<circle cx="450.82" cy="142.03" r="0.9" fill="#c9c9cc"/>
<circle cx="438.09" cy="141.93" r="0.9" fill="#c9c9cc"/>
<circle cx="445.31" cy="140.48" r="0.9" fill="#c9c9cc"/>
<circle cx="490.91" cy="142.77" r="0.9" fill="#c9c9cc"/>
<circle cx="430.42" cy="142.07" r="0.9" fill="#c9c9cc"/>
<circle cx="460.34" cy="143.13" r="0.9" fill="#c9c9cc"/>
<circle cx="445.39" cy="141.54" r="0.9" fill="#c9c9cc"/>
<circle cx="404.70" cy="142.59" r="0.9" fill="#c9c9cc"/>
<circle cx="416.42" cy="139.68" r="0.9" fill="#c9c9cc"/>
<circle cx="484.33" cy="142.21" r="0.9" fill="#c9c9cc"/>
<circle cx="446.97" cy="142.60" r="0.9" fill="#c9c9cc"/>
<circle cx="435.75" cy="142.81" r="0.9" fill="#c9c9cc"/>
<circle cx="443.18" cy="139.20" r="0.9" fill="#c9c9cc"/>
<circle cx="445.91" cy="141.93" r="0.9" fill="#c9c9cc"/>
<circle cx="405.72" cy="143.19" r="0.9" fill="#c9c9cc"/>
<circle cx="438.24" cy="141.85" r="0.9" fill="#c9c9cc"/>
<circle cx="493.46" cy="142.00" r="0.9" fill="#c9c9cc"/>
<circle cx="446.84" cy="139.71" r="0.9" fill="#c9c9cc"/>
<circle cx="435.26" cy="142.17" r="0.9" fill="#c9c9cc"/>
<circle cx="492.58" cy="140.22" r="0.9" fill="#c9c9cc"/>
<circle cx="436.59" cy="142.32" r="0.9" fill="#c9c9cc"/>
<circle cx="445.32" cy="141.24" r="0.9" fill="#c9c9cc"/>
<circle cx="438.70" cy="141.63" r="0.9" fill="#c9c9cc"/>
<circle cx="454.26" cy="141.91" r="0.9" fill="#c9c9cc"/>
<circle cx="444.74" cy="142.81" r="0.9" fill="#c9c9cc"/>
<circle cx="441.02" cy="141.31" r="0.9" fill="#c9c9cc"/>
<circle cx="433.07" cy="142.85" r="0.9" fill="#c9c9cc"/>
<circle cx="445.26" cy="141.84" r="0.9" fill="#c9c9cc"/>
<circle cx="449.98" cy="142.35" r="0.9" fill="#c9c9cc"/>
<circle cx="451.04" cy="140.08" r="0.9" fill="#c9c9cc"/>
<circle cx="460.22" cy="142.57" r="0.9" fill="#c9c9cc"/>
<circle cx="444.97" cy="141.99" r="0.9" fill="#c9c9cc"/>
<circle cx="444.54" cy="141.22" r="0.9" fill="#c9c9cc"/>
<circle cx="450.51" cy="142.65" r="0.9" fill="#c9c9cc"/>
<circle cx="441.34" cy="142.16" r="0.9" fill="#c9c9cc"/>
<circle cx="456.32" cy="142.34" r="0.9" fill="#c9c9cc"/>
<circle cx="481.38" cy="143.26" r="0.9" fill="#c9c9cc"/>
<circle cx="443.15" cy="140.93" r="0.9" fill="#c9c9cc"/>
<circle cx="457.89" cy="142.15" r="0.9" fill="#c9c9cc"/>
<circle cx="460.54" cy="141.95" r="0.9" fill="#c9c9cc"/>
<circle cx="449.51" cy="142.40" r="0.9" fill="#c9c9cc"/>
<circle cx="433.25" cy="141.33" r="0.9" fill="#c9c9cc"/>
<circle cx="445.93" cy="140.54" r="0.9" fill="#c9c9cc"/>
<circle cx="445.15" cy="133.68" r="0.9" fill="#c9c9cc"/>
<circle cx="439.30" cy="139.59" r="0.9" fill="#c9c9cc"/>
<circle cx="455.12" cy="136.36" r="0.9" fill="#c9c9cc"/>
<circle cx="443.14" cy="143.17" r="0.9" fill="#c9c9cc"/>
<circle cx="449.46" cy="139.39" r="0.9" fill="#c9c9cc"/>
<circle cx="453.50" cy="141.00" r="0.9" fill="#c9c9cc"/>
<circle cx="447.68" cy="139.64" r="0.9" fill="#c9c9cc"/>
<circle cx="447.74" cy="143.25" r="0.9" fill="#c9c9cc"/>
<circle cx="450.74" cy="139.62" r="0.9" fill="#c9c9cc"/>
<circle cx="446.17" cy="137.49" r="0.9" fill="#c9c9cc"/>
<circle cx="441.21" cy="142.17" r="0.9" fill="#c9c9cc"/>
<circle cx="448.04" cy="141.72" r="0.9" fill="#c9c9cc"/>
<circle cx="445.08" cy="138.78" r="0.9" fill="#c9c9cc"/>
<circle cx="450.98" cy="141.48" r="0.9" fill="#c9c9cc"/>
<circle cx="447.33" cy="139.68" r="0.9" fill="#c9c9cc"/>
<circle cx="446.59" cy="137.57" r="0.9" fill="#c9c9cc"/>
<circle cx="450.62" cy="138.96" r="0.9" fill="#c9c9cc"/>
<circle cx="437.51" cy="141.18" r="0.9" fill="#c9c9cc"/>
<circle cx="446.90" cy="141.54" r="0.9" fill="#c9c9cc"/>
<circle cx="444.91" cy="142.20" r="0.9" fill="#c9c9cc"/>
<circle cx="449.97" cy="142.62" r="0.9" fill="#c9c9cc"/>
<circle cx="451.46" cy="138.75" r="0.9" fill="#c9c9cc"/>
<circle cx="448.17" cy="141.94" r="0.9" fill="#c9c9cc"/>
<circle cx="439.95" cy="139.29" r="0.9" fill="#c9c9cc"/>
<circle cx="439.49" cy="138.67" r="0.9" fill="#c9c9cc"/>
<circle cx="457.42" cy="139.15" r="0.9" fill="#c9c9cc"/>
<circle cx="447.79" cy="138.96" r="0.9" fill="#c9c9cc"/>
<circle cx="451.04" cy="139.69" r="0.9" fill="#c9c9cc"/>
<circle cx="448.24" cy="138.81" r="0.9" fill="#c9c9cc"/>
<circle cx="445.53" cy="143.06" r="0.9" fill="#c9c9cc"/>
<circle cx="444.25" cy="140.94" r="0.9" fill="#c9c9cc"/>
<circle cx="443.87" cy="141.42" r="0.9" fill="#c9c9cc"/>
<circle cx="441.04" cy="140.33" r="0.9" fill="#c9c9cc"/>
<circle cx="447.13" cy="141.78" r="0.9" fill="#c9c9cc"/>
<circle cx="444.57" cy="139.93" r="0.9" fill="#c9c9cc"/>
<circle cx="447.64" cy="142.15" r="0.9" fill="#c9c9cc"/>
<circle cx="451.57" cy="141.71" r="0.9" fill="#c9c9cc"/>
<circle cx="444.46" cy="141.65" r="0.9" fill="#c9c9cc"/>
<circle cx="452.64" cy="143.14" r="0.9" fill="#c9c9cc"/>
<circle cx="445.86" cy="140.29" r="0.9" fill="#c9c9cc"/>
<circle cx="444.61" cy="140.25" r="0.9" fill="#c9c9cc"/>
<circle cx="449.80" cy="139.71" r="0.9" fill="#c9c9cc"/>
<circle cx="439.27" cy="140.60" r="0.9" fill="#c9c9cc"/>
<circle cx="442.30" cy="141.39" r="0.9" fill="#c9c9cc"/>
<circle cx="436.20" cy="142.99" r="0.9" fill="#c9c9cc"/>
<circle cx="442.47" cy="139.20" r="0.9" fill="#c9c9cc"/>
<circle cx="446.72" cy="139.11" r="0.9" fill="#c9c9cc"/>
<circle cx="444.35" cy="136.96" r="0.9" fill="#c9c9cc"/>
<circle cx="444.33" cy="137.18" r="0.9" fill="#c9c9cc"/>
<circle cx="444.14" cy="140.14" r="0.9" fill="#c9c9cc"/>
<circle cx="450.00" cy="142.02" r="0.9" fill="#c9c9cc"/>
<circle cx="445.96" cy="138.96" r="0.9" fill="#c9c9cc"/>
<circle cx="444.75" cy="142.93" r="0.9" fill="#c9c9cc"/>
<circle cx="443.22" cy="142.03" r="0.9" fill="#c9c9cc"/>
<circle cx="436.47" cy="140.41" r="0.9" fill="#c9c9cc"/>
<circle cx="444.47" cy="138.55" r="0.9" fill="#c9c9cc"/>
<circle cx="444.72" cy="141.18" r="0.9" fill="#c9c9cc"/>
<circle cx="444.30" cy="142.40" r="0.9" fill="#c9c9cc"/>
<circle cx="448.73" cy="141.81" r="0.9" fill="#c9c9cc"/>
<circle cx="442.83" cy="141.90" r="0.9" fill="#c9c9cc"/>
<circle cx="449.71" cy="137.67" r="0.9" fill="#c9c9cc"/>
<circle cx="441.76" cy="141.13" r="0.9" fill="#c9c9cc"/>
<circle cx="453.46" cy="139.31" r="0.9" fill="#c9c9cc"/>
<circle cx="449.59" cy="141.70" r="0.9" fill="#c9c9cc"/>
<circle cx="441.46" cy="139.66" r="0.9" fill="#c9c9cc"/>
<circle cx="444.33" cy="140.73" r="0.9" fill="#c9c9cc"/>
<circle cx="454.43" cy="138.62" r="0.9" fill="#c9c9cc"/>
<circle cx="452.08" cy="142.64" r="0.9" fill="#c9c9cc"/>
<circle cx="432.50" cy="113.90" r="0.95" fill="#44535f"/>
<circle cx="431.50" cy="128.10" r="0.95" fill="#44535f"/>
<circle cx="435.00" cy="130.00" r="0.95" fill="#44535f"/>
<circle cx="438.80" cy="130.60" r="0.95" fill="#44535f"/>
<circle cx="434.70" cy="132.70" r="0.95" fill="#44535f"/>
<circle cx="439.40" cy="135.20" r="0.95" fill="#44535f"/>
<circle cx="413.50" cy="138.00" r="0.95" fill="#44535f"/>
<circle cx="401.00" cy="141.20" r="0.95" fill="#44535f"/>
<circle cx="405.00" cy="140.80" r="0.95" fill="#44535f"/>
<circle cx="409.00" cy="141.50" r="0.95" fill="#44535f"/>
<circle cx="416.00" cy="140.60" r="0.95" fill="#44535f"/>
<circle cx="419.00" cy="141.30" r="0.95" fill="#44535f"/>
<circle cx="426.00" cy="141.00" r="0.95" fill="#44535f"/>
<circle cx="430.00" cy="140.20" r="0.95" fill="#44535f"/>
<circle cx="433.00" cy="139.20" r="0.95" fill="#44535f"/>
<circle cx="436.00" cy="138.20" r="0.95" fill="#44535f"/>
<circle cx="440.00" cy="139.50" r="0.95" fill="#44535f"/>
<circle cx="442.50" cy="138.00" r="0.95" fill="#44535f"/>
<circle cx="438.00" cy="141.20" r="0.95" fill="#44535f"/>
<circle cx="444.00" cy="140.50" r="0.95" fill="#44535f"/>
<circle cx="428.00" cy="138.50" r="0.95" fill="#44535f"/>
<circle cx="479.20" cy="31.20" r="0.95" fill="#44535f"/>
<circle cx="463.50" cy="81.20" r="0.95" fill="#44535f"/>
<circle cx="461.50" cy="86.50" r="0.95" fill="#44535f"/>
<circle cx="464.20" cy="92.20" r="0.95" fill="#44535f"/>
<circle cx="477.30" cy="104.60" r="0.95" fill="#44535f"/>
<circle cx="459.60" cy="106.90" r="0.95" fill="#44535f"/>
<circle cx="458.80" cy="110.40" r="0.95" fill="#44535f"/>
<circle cx="461.50" cy="111.20" r="0.95" fill="#44535f"/>
<circle cx="462.70" cy="111.80" r="0.95" fill="#44535f"/>
<circle cx="466.20" cy="111.20" r="0.95" fill="#44535f"/>
<circle cx="476.50" cy="111.50" r="0.95" fill="#44535f"/>
<circle cx="476.50" cy="113.00" r="0.95" fill="#44535f"/>
<circle cx="459.20" cy="115.80" r="0.95" fill="#44535f"/>
<circle cx="463.80" cy="115.60" r="0.95" fill="#44535f"/>
<circle cx="457.70" cy="118.50" r="0.95" fill="#44535f"/>
<circle cx="469.20" cy="119.20" r="0.95" fill="#44535f"/>
<circle cx="468.50" cy="120.80" r="0.95" fill="#44535f"/>
<circle cx="465.40" cy="121.90" r="0.95" fill="#44535f"/>
<circle cx="460.00" cy="120.40" r="0.95" fill="#44535f"/>
<circle cx="455.00" cy="123.00" r="0.95" fill="#44535f"/>
<circle cx="457.00" cy="124.50" r="0.95" fill="#44535f"/>
<circle cx="453.50" cy="126.00" r="0.95" fill="#44535f"/>
<circle cx="456.00" cy="127.50" r="0.95" fill="#44535f"/>
<circle cx="459.00" cy="126.50" r="0.95" fill="#44535f"/>
<circle cx="461.00" cy="125.00" r="0.95" fill="#44535f"/>
<circle cx="463.00" cy="124.00" r="0.95" fill="#44535f"/>
<circle cx="466.00" cy="123.50" r="0.95" fill="#44535f"/>
<circle cx="471.20" cy="138.20" r="0.95" fill="#44535f"/>
<circle cx="472.80" cy="139.20" r="0.95" fill="#44535f"/>
<circle cx="474.30" cy="138.00" r="0.95" fill="#44535f"/>
<circle cx="476.50" cy="137.60" r="0.95" fill="#44535f"/>
<circle cx="477.20" cy="139.60" r="0.95" fill="#44535f"/>
<circle cx="480.00" cy="138.80" r="0.95" fill="#44535f"/>
<circle cx="481.50" cy="137.40" r="0.95" fill="#44535f"/>
<circle cx="484.00" cy="139.00" r="0.95" fill="#44535f"/>
<circle cx="485.80" cy="138.60" r="0.95" fill="#44535f"/>
<circle cx="487.60" cy="139.20" r="0.95" fill="#44535f"/>
<circle cx="491.30" cy="137.20" r="0.95" fill="#44535f"/>
<circle cx="492.20" cy="139.40" r="0.95" fill="#44535f"/>
<circle cx="470.00" cy="140.30" r="0.95" fill="#44535f"/>
<circle cx="482.50" cy="140.60" r="0.95" fill="#44535f"/>
<circle cx="489.50" cy="140.60" r="0.95" fill="#44535f"/>
<circle cx="456.70" cy="136.89" r="0.95" fill="#44535f"/>
<circle cx="456.15" cy="136.98" r="0.95" fill="#44535f"/>
<circle cx="458.37" cy="132.56" r="0.95" fill="#44535f"/>
<circle cx="457.40" cy="124.84" r="0.95" fill="#44535f"/>
<circle cx="455.22" cy="124.21" r="0.95" fill="#44535f"/>
<circle cx="457.49" cy="128.67" r="0.95" fill="#44535f"/>
<circle cx="461.52" cy="131.85" r="0.95" fill="#44535f"/>
<circle cx="459.06" cy="142.67" r="0.95" fill="#44535f"/>
<circle cx="460.71" cy="138.17" r="0.95" fill="#44535f"/>
<circle cx="466.72" cy="141.07" r="0.95" fill="#44535f"/>
<circle cx="457.36" cy="141.18" r="0.95" fill="#44535f"/>
<circle cx="457.86" cy="141.97" r="0.95" fill="#44535f"/>
<circle cx="453.76" cy="130.86" r="0.95" fill="#44535f"/>
<circle cx="461.78" cy="141.71" r="0.95" fill="#44535f"/>
<circle cx="460.05" cy="133.66" r="0.95" fill="#44535f"/>
<circle cx="463.81" cy="140.58" r="0.95" fill="#44535f"/>
<circle cx="459.32" cy="131.13" r="0.95" fill="#44535f"/>
<circle cx="459.07" cy="142.21" r="0.95" fill="#44535f"/>
<circle cx="465.67" cy="142.96" r="0.95" fill="#44535f"/>
<circle cx="457.47" cy="125.56" r="0.95" fill="#44535f"/>
<circle cx="457.28" cy="142.93" r="0.95" fill="#44535f"/>
<circle cx="458.46" cy="135.55" r="0.95" fill="#44535f"/>
<circle cx="464.22" cy="142.30" r="0.95" fill="#44535f"/>
<circle cx="459.15" cy="139.85" r="0.95" fill="#44535f"/>
<circle cx="460.64" cy="142.16" r="0.95" fill="#44535f"/>
<circle cx="453.02" cy="142.11" r="0.95" fill="#44535f"/>
<circle cx="455.81" cy="136.04" r="0.95" fill="#44535f"/>
<circle cx="455.00" cy="129.97" r="0.95" fill="#44535f"/>
<circle cx="452.87" cy="137.94" r="0.95" fill="#44535f"/>
<circle cx="458.59" cy="141.07" r="0.95" fill="#44535f"/>
<circle cx="457.54" cy="135.08" r="0.95" fill="#44535f"/>
<circle cx="454.08" cy="128.09" r="0.95" fill="#44535f"/>
<circle cx="454.38" cy="128.11" r="0.95" fill="#44535f"/>
<circle cx="455.78" cy="124.84" r="0.95" fill="#44535f"/>
<circle cx="460.11" cy="138.08" r="0.95" fill="#44535f"/>
<circle cx="458.96" cy="127.75" r="0.95" fill="#44535f"/>
<circle cx="452.30" cy="137.95" r="0.95" fill="#44535f"/>
<circle cx="464.49" cy="141.85" r="0.95" fill="#44535f"/>
<circle cx="458.78" cy="131.04" r="0.95" fill="#44535f"/>
<circle cx="459.97" cy="141.82" r="0.95" fill="#44535f"/>
<circle cx="453.32" cy="142.91" r="0.95" fill="#44535f"/>
<circle cx="465.70" cy="139.87" r="0.95" fill="#44535f"/>
<circle cx="460.87" cy="133.20" r="0.95" fill="#44535f"/>
<circle cx="458.34" cy="142.81" r="0.95" fill="#44535f"/>
<circle cx="455.78" cy="142.58" r="0.95" fill="#44535f"/>
<circle cx="466.29" cy="142.29" r="0.95" fill="#44535f"/>
<circle cx="458.80" cy="139.42" r="0.95" fill="#44535f"/>
<circle cx="461.12" cy="132.95" r="0.95" fill="#44535f"/>
<circle cx="456.11" cy="125.51" r="0.95" fill="#44535f"/>
<circle cx="462.97" cy="136.26" r="0.95" fill="#44535f"/>
<circle cx="456.06" cy="138.29" r="0.95" fill="#44535f"/>
<circle cx="455.13" cy="130.92" r="0.95" fill="#44535f"/>
<circle cx="457.85" cy="138.76" r="0.95" fill="#44535f"/>
<circle cx="456.64" cy="136.74" r="0.95" fill="#44535f"/>
<circle cx="457.93" cy="137.63" r="0.95" fill="#44535f"/>
<circle cx="465.19" cy="142.79" r="0.95" fill="#44535f"/>
<circle cx="460.14" cy="142.71" r="0.95" fill="#44535f"/>
<circle cx="456.92" cy="135.30" r="0.95" fill="#44535f"/>
<circle cx="453.26" cy="141.00" r="0.95" fill="#44535f"/>
<circle cx="456.29" cy="138.69" r="0.95" fill="#44535f"/>
<circle cx="455.10" cy="136.60" r="0.95" fill="#44535f"/>
<circle cx="456.90" cy="130.67" r="0.95" fill="#44535f"/>
<circle cx="458.21" cy="142.98" r="0.95" fill="#44535f"/>
<circle cx="453.90" cy="124.95" r="0.95" fill="#44535f"/>
<circle cx="462.57" cy="134.32" r="0.95" fill="#44535f"/>
<circle cx="460.14" cy="138.80" r="0.95" fill="#44535f"/>
<circle cx="456.12" cy="138.74" r="0.95" fill="#44535f"/>
<circle cx="458.63" cy="133.97" r="0.95" fill="#44535f"/>
<circle cx="458.96" cy="139.64" r="0.95" fill="#44535f"/>
<circle cx="461.09" cy="135.95" r="0.95" fill="#44535f"/>
<circle cx="453.05" cy="142.77" r="0.95" fill="#44535f"/>
<circle cx="455.81" cy="140.60" r="0.95" fill="#44535f"/>
<circle cx="456.22" cy="129.52" r="0.95" fill="#44535f"/>
<circle cx="455.80" cy="127.85" r="0.95" fill="#44535f"/>
<circle cx="461.70" cy="140.10" r="0.95" fill="#44535f"/>
<circle cx="467.47" cy="142.53" r="0.95" fill="#44535f"/>
<circle cx="455.45" cy="128.59" r="0.95" fill="#44535f"/>
<circle cx="463.49" cy="139.60" r="0.95" fill="#44535f"/>
<circle cx="457.78" cy="129.70" r="0.95" fill="#44535f"/>
<circle cx="463.99" cy="142.74" r="0.95" fill="#44535f"/>
<circle cx="461.75" cy="142.80" r="0.95" fill="#44535f"/>
<circle cx="462.69" cy="135.21" r="0.95" fill="#44535f"/>
<circle cx="452.99" cy="133.30" r="0.95" fill="#44535f"/>
<circle cx="457.00" cy="125.84" r="0.95" fill="#44535f"/>
<circle cx="452.66" cy="134.61" r="0.95" fill="#44535f"/>
<circle cx="456.41" cy="130.98" r="0.95" fill="#44535f"/>
<circle cx="461.69" cy="132.35" r="0.95" fill="#44535f"/>
<circle cx="454.04" cy="126.32" r="0.95" fill="#44535f"/>
<circle cx="456.39" cy="129.88" r="0.95" fill="#44535f"/>
<circle cx="456.04" cy="130.62" r="0.95" fill="#44535f"/>
<circle cx="457.69" cy="137.31" r="0.95" fill="#44535f"/>
<circle cx="456.70" cy="142.23" r="0.95" fill="#44535f"/>
<circle cx="453.65" cy="131.04" r="0.95" fill="#44535f"/>
<circle cx="464.92" cy="142.25" r="0.95" fill="#44535f"/>
<circle cx="457.88" cy="132.67" r="0.95" fill="#44535f"/>
<circle cx="453.49" cy="142.28" r="0.95" fill="#44535f"/>
<circle cx="465.45" cy="139.72" r="0.95" fill="#44535f"/>
<circle cx="462.55" cy="135.03" r="0.95" fill="#44535f"/>
<circle cx="458.04" cy="141.16" r="0.95" fill="#44535f"/>
<circle cx="461.88" cy="135.54" r="0.95" fill="#44535f"/>
<circle cx="465.51" cy="142.18" r="0.95" fill="#44535f"/>
<circle cx="452.69" cy="136.83" r="0.95" fill="#44535f"/>
<circle cx="456.99" cy="137.61" r="0.95" fill="#44535f"/>
<circle cx="461.26" cy="132.48" r="0.95" fill="#44535f"/>
<circle cx="460.52" cy="136.41" r="0.95" fill="#44535f"/>
<circle cx="462.41" cy="138.41" r="0.95" fill="#44535f"/>
<circle cx="463.49" cy="142.35" r="0.95" fill="#44535f"/>
<circle cx="460.80" cy="141.71" r="0.95" fill="#44535f"/>
<circle cx="457.02" cy="141.27" r="0.95" fill="#44535f"/>
<circle cx="457.12" cy="141.74" r="0.95" fill="#44535f"/>
<circle cx="458.02" cy="134.36" r="0.95" fill="#44535f"/>
<circle cx="459.70" cy="138.40" r="0.95" fill="#44535f"/>
<circle cx="455.61" cy="128.31" r="0.95" fill="#44535f"/>
<circle cx="457.65" cy="134.52" r="0.95" fill="#44535f"/>
<circle cx="455.04" cy="124.55" r="0.95" fill="#44535f"/>
<circle cx="454.97" cy="131.93" r="0.95" fill="#44535f"/>
<circle cx="462.57" cy="140.46" r="0.95" fill="#44535f"/>
<circle cx="455.32" cy="134.72" r="0.95" fill="#44535f"/>
<circle cx="464.97" cy="142.69" r="0.95" fill="#44535f"/>
<circle cx="461.66" cy="138.59" r="0.95" fill="#44535f"/>
<circle cx="460.03" cy="137.59" r="0.95" fill="#44535f"/>
<circle cx="463.13" cy="135.05" r="0.95" fill="#44535f"/>
<circle cx="455.85" cy="126.52" r="0.95" fill="#44535f"/>
<circle cx="455.11" cy="136.55" r="0.95" fill="#44535f"/>
<circle cx="453.92" cy="130.58" r="0.95" fill="#44535f"/>
<circle cx="463.97" cy="139.78" r="0.95" fill="#44535f"/>
<circle cx="462.98" cy="142.88" r="0.95" fill="#44535f"/>
<circle cx="458.48" cy="134.86" r="0.95" fill="#44535f"/>
<circle cx="454.09" cy="139.35" r="0.95" fill="#44535f"/>
<circle cx="456.86" cy="125.38" r="0.95" fill="#44535f"/>
<circle cx="453.97" cy="129.26" r="0.95" fill="#44535f"/>
<circle cx="454.79" cy="129.81" r="0.95" fill="#44535f"/>
<circle cx="459.91" cy="141.31" r="0.95" fill="#44535f"/>
<circle cx="453.91" cy="133.95" r="0.95" fill="#44535f"/>
<circle cx="457.52" cy="130.29" r="0.95" fill="#44535f"/>
<circle cx="478.20" cy="77.00" r="1.0" fill="#8a1a38"/>
<circle cx="460.40" cy="99.80" r="1.0" fill="#8a1a38"/>
<circle cx="464.20" cy="118.10" r="1.0" fill="#8a1a38"/>
<circle cx="458.30" cy="124.60" r="1.0" fill="#8a1a38"/>
<circle cx="466.00" cy="121.50" r="1.0" fill="#8a1a38"/>
<circle cx="468.50" cy="122.30" r="1.0" fill="#8a1a38"/>
<circle cx="456.50" cy="135.00" r="1.0" fill="#8a1a38"/>
<circle cx="458.50" cy="137.50" r="1.0" fill="#8a1a38"/>
<circle cx="460.50" cy="136.00" r="1.0" fill="#8a1a38"/>
<circle cx="462.50" cy="138.50" r="1.0" fill="#8a1a38"/>
<circle cx="459.50" cy="139.80" r="1.0" fill="#8a1a38"/>
<circle cx="457.00" cy="140.50" r="1.0" fill="#8a1a38"/>
<circle cx="461.50" cy="141.00" r="1.0" fill="#8a1a38"/>
<circle cx="463.50" cy="136.80" r="1.0" fill="#8a1a38"/>
<circle cx="455.50" cy="138.50" r="1.0" fill="#8a1a38"/>
<circle cx="460.00" cy="134.00" r="1.0" fill="#8a1a38"/>
<circle cx="464.60" cy="133.40" r="1.7" fill="#fff"/>
<circle cx="462.30" cy="137.20" r="1.3" fill="#fff"/>
<circle cx="467.40" cy="134.60" r="1.2" fill="#fff"/>
<line x1="446.20" y1="47.00" x2="446.20" y2="148.50" stroke="#63b8dc" stroke-width="1"/>
<line x1="385.80" y1="22.80" x2="385.80" y2="149.10" stroke="#2e2e2e" stroke-width="1.3"/>
<line x1="385.20" y1="148.50" x2="506.20" y2="148.50" stroke="#2e2e2e" stroke-width="1.3"/>
<line x1="383.30" y1="25.40" x2="385.80" y2="25.40" stroke="#2e2e2e" stroke-width="0.9"/>
<text x="380.60" y="28.10" font-size="7.3" text-anchor="end">100</text>
<line x1="383.30" y1="54.90" x2="385.80" y2="54.90" stroke="#2e2e2e" stroke-width="0.9"/>
<text x="380.60" y="57.60" font-size="7.3" text-anchor="end">75</text>
<line x1="383.30" y1="84.40" x2="385.80" y2="84.40" stroke="#2e2e2e" stroke-width="0.9"/>
<text x="380.60" y="87.10" font-size="7.3" text-anchor="end">50</text>
<line x1="383.30" y1="113.90" x2="385.80" y2="113.90" stroke="#2e2e2e" stroke-width="0.9"/>
<text x="380.60" y="116.60" font-size="7.3" text-anchor="end">25</text>
<line x1="383.30" y1="143.30" x2="385.80" y2="143.30" stroke="#2e2e2e" stroke-width="0.9"/>
<text x="380.60" y="146.00" font-size="7.3" text-anchor="end">0</text>
<line x1="412.00" y1="148.50" x2="412.00" y2="150.80" stroke="#2e2e2e" stroke-width="0.9"/>
<text x="412.00" y="161.20" font-size="7.3" text-anchor="middle">−5</text>
<line x1="446.20" y1="148.50" x2="446.20" y2="150.80" stroke="#2e2e2e" stroke-width="0.9"/>
<text x="446.20" y="161.20" font-size="7.3" text-anchor="middle">0</text>
<line x1="480.30" y1="148.50" x2="480.30" y2="150.80" stroke="#2e2e2e" stroke-width="0.9"/>
<text x="480.30" y="161.20" font-size="7.3" text-anchor="middle">5</text>
<text class="cd" x="0" y="0" font-size="7.4" transform="translate(358.5 103.3) rotate(-90)" textLength="34.2" lengthAdjust="spacingAndGlyphs">−log<tspan font-size="5" dy="1.6">10</tspan><tspan dy="-1.6">(</tspan><tspan font-style="italic">Padj</tspan>)</text>
<text class="cd" x="417.7" y="174.1" font-size="8.8" textLength="56.1" lengthAdjust="spacingAndGlyphs">log<tspan font-size="5.4" dy="1.6">2</tspan><tspan dy="-1.6">FC (Dex/DMSO)</tspan></text>
<circle cx="389.90" cy="32.90" r="1.6" fill="#8a1a38"/>
<text x="395.40" y="35.70" font-size="6.75" textLength="53.90" lengthAdjust="spacingAndGlyphs">PI3K_AKT_mTOR</text>
<circle cx="389.90" cy="40.50" r="1.6" fill="#2f4b5a"/>
<text x="395.40" y="43.30" font-size="6.75" textLength="31.00" lengthAdjust="spacingAndGlyphs">Significant</text>
<circle cx="389.90" cy="48.10" r="1.6" fill="#c8c8c8"/>
<text x="395.40" y="50.90" font-size="6.75" textLength="44.70" lengthAdjust="spacingAndGlyphs">Non-significant</text>
<text x="471.10" y="73.00" font-size="7.5" font-style="italic" textLength="32.90" lengthAdjust="spacingAndGlyphs">TSC22D3</text>
<text x="477.60" y="92.80" font-size="7.5" font-style="italic" textLength="21.60" lengthAdjust="spacingAndGlyphs">DDIT4</text>
<text x="480.60" y="106.60" font-size="7.5" font-style="italic" textLength="26.20" lengthAdjust="spacingAndGlyphs">SOCS1</text>
<text x="481.10" y="118.00" font-size="7.5" font-style="italic" textLength="25.90" lengthAdjust="spacingAndGlyphs">SOCS2</text>
<text x="479.10" y="124.70" font-size="7.5" font-style="italic" textLength="33.70" lengthAdjust="spacingAndGlyphs">CASTOR1</text>
<text x="484.40" y="131.20" font-size="7.5" font-style="italic" textLength="26.90" lengthAdjust="spacingAndGlyphs">PIK3IP1</text>
<line x1="462.70" y1="99.00" x2="475.50" y2="91.10" stroke="#231f20" stroke-width="0.7"/>
<line x1="479.20" y1="107.30" x2="465.40" y2="117.90" stroke="#231f20" stroke-width="0.7"/>
<line x1="478.80" y1="116.90" x2="469.60" y2="120.00" stroke="#231f20" stroke-width="0.7"/>
<line x1="478.00" y1="124.00" x2="463.40" y2="133.00" stroke="#231f20" stroke-width="0.7"/>
<line x1="483.00" y1="131.00" x2="470.40" y2="134.80" stroke="#231f20" stroke-width="0.7"/>
<line x1="98.60" y1="231.60" x2="98.60" y2="321.60" stroke="#ededed" stroke-width="0.7"/>
<line x1="98.60" y1="327.00" x2="98.60" y2="361.00" stroke="#ededed" stroke-width="0.7"/>
<line x1="111.30" y1="231.60" x2="111.30" y2="321.60" stroke="#ededed" stroke-width="0.7"/>
<line x1="111.30" y1="327.00" x2="111.30" y2="361.00" stroke="#ededed" stroke-width="0.7"/>
<line x1="124.00" y1="231.60" x2="124.00" y2="321.60" stroke="#ededed" stroke-width="0.7"/>
<line x1="124.00" y1="327.00" x2="124.00" y2="361.00" stroke="#ededed" stroke-width="0.7"/>
<line x1="136.70" y1="231.60" x2="136.70" y2="321.60" stroke="#ededed" stroke-width="0.7"/>
<line x1="136.70" y1="327.00" x2="136.70" y2="361.00" stroke="#ededed" stroke-width="0.7"/>
<line x1="149.40" y1="231.60" x2="149.40" y2="321.60" stroke="#ededed" stroke-width="0.7"/>
<line x1="149.40" y1="327.00" x2="149.40" y2="361.00" stroke="#ededed" stroke-width="0.7"/>
<line x1="162.10" y1="231.60" x2="162.10" y2="321.60" stroke="#ededed" stroke-width="0.7"/>
<line x1="162.10" y1="327.00" x2="162.10" y2="361.00" stroke="#ededed" stroke-width="0.7"/>
<line x1="174.80" y1="231.60" x2="174.80" y2="321.60" stroke="#ededed" stroke-width="0.7"/>
<line x1="174.80" y1="327.00" x2="174.80" y2="361.00" stroke="#ededed" stroke-width="0.7"/>
<line x1="187.50" y1="231.60" x2="187.50" y2="321.60" stroke="#ededed" stroke-width="0.7"/>
<line x1="187.50" y1="327.00" x2="187.50" y2="361.00" stroke="#ededed" stroke-width="0.7"/>
<line x1="200.20" y1="231.60" x2="200.20" y2="321.60" stroke="#ededed" stroke-width="0.7"/>
<line x1="200.20" y1="327.00" x2="200.20" y2="361.00" stroke="#ededed" stroke-width="0.7"/>
<line x1="212.90" y1="231.60" x2="212.90" y2="321.60" stroke="#ededed" stroke-width="0.7"/>
<line x1="212.90" y1="327.00" x2="212.90" y2="361.00" stroke="#ededed" stroke-width="0.7"/>
<text x="154.30" y="215.70" font-size="8.7" text-anchor="middle" class="nt" textLength="138.20" lengthAdjust="spacingAndGlyphs">Regulation of phosphatidylinositol 3</text>
<text x="153.90" y="227.00" font-size="8.7" text-anchor="middle" class="nt" textLength="58.30" lengthAdjust="spacingAndGlyphs">−kinase activity</text>
<polyline points="87.00,254.70 88.30,256.80 89.60,251.20 90.50,244.80 91.30,241.80 92.20,240.90 93.00,241.80 93.90,238.30 94.80,235.60 96.90,237.90 99.90,240.90 102.50,238.30 105.50,240.90 109.80,244.80 113.70,246.90 115.00,246.10 117.50,247.40 120.10,249.90 123.40,253.20 125.60,253.20 127.70,252.30 131.20,255.30 137.20,260.90 145.80,268.20 155.00,276.90 163.60,283.80 172.20,291.90 176.50,295.80 183.40,301.80 184.70,299.70 186.00,301.00 187.70,301.90 193.60,307.90 203.10,315.60 204.80,312.20 209.10,316.10 210.40,313.50 218.50,321.70" fill="none" stroke="#84c874" stroke-width="1.0"/>
<text x="95.20" y="307.50" font-size="7.3" textLength="47.00" lengthAdjust="spacingAndGlyphs"><tspan font-style="italic">P</tspan>value .00057</text>
<text x="95.20" y="316.70" font-size="7.3" textLength="31.50" lengthAdjust="spacingAndGlyphs">NES 1.94</text>
<defs><linearGradient id="rk" x1="0" x2="1" y1="0" y2="0"><stop offset="0.0000" stop-color="#8e1b2b"/><stop offset="0.0635" stop-color="#b8202e"/><stop offset="0.0711" stop-color="#d43d33"/><stop offset="0.2504" stop-color="#d8473a"/><stop offset="0.2564" stop-color="#e2604f"/><stop offset="0.4183" stop-color="#e8735f"/><stop offset="0.4228" stop-color="#f0a48c"/><stop offset="0.5401" stop-color="#f3b4a0"/><stop offset="0.5703" stop-color="#f7d4c8"/><stop offset="0.6687" stop-color="#f9e6e0"/><stop offset="0.7519" stop-color="#f1f1f4"/><stop offset="0.7632" stop-color="#c9dcea"/><stop offset="0.8805" stop-color="#9cc3dc"/><stop offset="0.8956" stop-color="#4f8fbe"/><stop offset="0.9486" stop-color="#3d7fb3"/><stop offset="1.0000" stop-color="#2f6c9f"/></linearGradient></defs>
<rect x="86.60" y="334.30" width="132.20" height="2.40" fill="url(#rk)"/>
<line x1="89.40" y1="327.40" x2="89.40" y2="334.30" stroke="#6b6b6b" stroke-width="0.75"/>
<line x1="91.00" y1="327.40" x2="91.00" y2="334.30" stroke="#6b6b6b" stroke-width="0.75"/>
<line x1="92.70" y1="327.40" x2="92.70" y2="334.30" stroke="#6b6b6b" stroke-width="0.75"/>
<line x1="94.50" y1="327.40" x2="94.50" y2="334.30" stroke="#6b6b6b" stroke-width="0.75"/>
<line x1="100.40" y1="327.40" x2="100.40" y2="334.30" stroke="#6b6b6b" stroke-width="0.75"/>
<line x1="102.20" y1="327.40" x2="102.20" y2="334.30" stroke="#6b6b6b" stroke-width="0.75"/>
<line x1="109.60" y1="327.40" x2="109.60" y2="334.30" stroke="#6b6b6b" stroke-width="0.75"/>
<line x1="113.60" y1="327.40" x2="113.60" y2="334.30" stroke="#6b6b6b" stroke-width="0.75"/>
<line x1="115.60" y1="327.40" x2="115.60" y2="334.30" stroke="#6b6b6b" stroke-width="0.75"/>
<line x1="117.40" y1="327.40" x2="117.40" y2="334.30" stroke="#6b6b6b" stroke-width="0.75"/>
<line x1="124.40" y1="327.40" x2="124.40" y2="334.30" stroke="#6b6b6b" stroke-width="0.75"/>
<line x1="126.40" y1="327.40" x2="126.40" y2="334.30" stroke="#6b6b6b" stroke-width="0.75"/>
<line x1="127.30" y1="327.40" x2="127.30" y2="334.30" stroke="#6b6b6b" stroke-width="0.75"/>
<line x1="131.80" y1="327.40" x2="131.80" y2="334.30" stroke="#6b6b6b" stroke-width="0.75"/>
<line x1="138.90" y1="327.40" x2="138.90" y2="334.30" stroke="#6b6b6b" stroke-width="0.75"/>
<line x1="147.30" y1="327.40" x2="147.30" y2="334.30" stroke="#6b6b6b" stroke-width="0.75"/>
<line x1="149.30" y1="327.40" x2="149.30" y2="334.30" stroke="#6b6b6b" stroke-width="0.75"/>
<line x1="153.50" y1="327.40" x2="153.50" y2="334.30" stroke="#6b6b6b" stroke-width="0.75"/>
<line x1="161.80" y1="327.40" x2="161.80" y2="334.30" stroke="#6b6b6b" stroke-width="0.75"/>
<line x1="172.20" y1="327.40" x2="172.20" y2="334.30" stroke="#6b6b6b" stroke-width="0.75"/>
<line x1="183.90" y1="327.40" x2="183.90" y2="334.30" stroke="#6b6b6b" stroke-width="0.75"/>
<line x1="184.60" y1="327.40" x2="184.60" y2="334.30" stroke="#6b6b6b" stroke-width="0.75"/>
<line x1="187.70" y1="327.40" x2="187.70" y2="334.30" stroke="#aaaaaa" stroke-width="0.75"/>
<line x1="204.70" y1="327.40" x2="204.70" y2="334.30" stroke="#6b6b6b" stroke-width="0.75"/>
<line x1="209.60" y1="327.40" x2="209.60" y2="334.30" stroke="#6b6b6b" stroke-width="0.75"/>
<polyline points="86.80,347.60 88.00,347.90 90.00,348.40 95.00,348.80 110.00,349.00 200.00,349.20 217.50,349.60 218.40,350.50 218.80,352.20" fill="none" stroke="#9a9a9a" stroke-width="0.8"/>
<rect x="86.60" y="348.60" width="132.00" height="0.90" fill="#e6e6e6"/>
<line x1="86.00" y1="231.60" x2="86.00" y2="361.90" stroke="#2e2e2e" stroke-width="1.3"/>
<line x1="85.40" y1="361.30" x2="219.60" y2="361.30" stroke="#2e2e2e" stroke-width="1.3"/>
<line x1="83.50" y1="245.50" x2="86.00" y2="245.50" stroke="#2e2e2e" stroke-width="0.9"/>
<text x="80.80" y="248.20" font-size="7.5" text-anchor="end">0.6</text>
<line x1="83.50" y1="270.70" x2="86.00" y2="270.70" stroke="#2e2e2e" stroke-width="0.9"/>
<text x="80.80" y="273.40" font-size="7.5" text-anchor="end">0.4</text>
<line x1="83.50" y1="296.20" x2="86.00" y2="296.20" stroke="#2e2e2e" stroke-width="0.9"/>
<text x="80.80" y="298.90" font-size="7.5" text-anchor="end">0.2</text>
<line x1="83.50" y1="321.60" x2="86.00" y2="321.60" stroke="#2e2e2e" stroke-width="0.9"/>
<text x="80.80" y="324.30" font-size="7.5" text-anchor="end">0.0</text>
<line x1="83.50" y1="342.70" x2="86.00" y2="342.70" stroke="#2e2e2e" stroke-width="0.9"/>
<text x="80.80" y="345.20" font-size="7.2" text-anchor="end">4</text>
<line x1="83.50" y1="349.00" x2="86.00" y2="349.00" stroke="#2e2e2e" stroke-width="0.9"/>
<text x="80.80" y="351.50" font-size="7.2" text-anchor="end">0</text>
<line x1="83.50" y1="355.50" x2="86.00" y2="355.50" stroke="#2e2e2e" stroke-width="0.9"/>
<text x="80.80" y="358.00" font-size="7.2" text-anchor="end">−4</text>
<line x1="111.30" y1="361.30" x2="111.30" y2="363.50" stroke="#2e2e2e" stroke-width="0.9"/>
<text x="111.30" y="373.70" font-size="7.5" text-anchor="middle">2500</text>
<line x1="136.70" y1="361.30" x2="136.70" y2="363.50" stroke="#2e2e2e" stroke-width="0.9"/>
<text x="136.70" y="373.70" font-size="7.5" text-anchor="middle">5000</text>
<line x1="162.10" y1="361.30" x2="162.10" y2="363.50" stroke="#2e2e2e" stroke-width="0.9"/>
<text x="162.10" y="373.70" font-size="7.5" text-anchor="middle">7500</text>
<line x1="187.50" y1="361.30" x2="187.50" y2="363.50" stroke="#2e2e2e" stroke-width="0.9"/>
<text x="187.50" y="373.70" font-size="7.5" text-anchor="middle">10000</text>
<line x1="212.90" y1="361.30" x2="212.90" y2="363.50" stroke="#2e2e2e" stroke-width="0.9"/>
<text x="212.90" y="373.70" font-size="7.5" text-anchor="middle">12500</text>
<text x="153.90" y="386.20" font-size="8.4" text-anchor="middle" class="cd" textLength="66.20" lengthAdjust="spacingAndGlyphs">Rank in ordered dataset</text>
<text x="53.50" y="276.20" font-size="8" text-anchor="middle" class="cd" textLength="22.10" lengthAdjust="spacingAndGlyphs" transform="rotate(-90 53.50 276.20)">Running</text>
<text x="63.60" y="276.20" font-size="8" text-anchor="middle" class="cd" textLength="47.90" lengthAdjust="spacingAndGlyphs" transform="rotate(-90 63.60 276.20)">enrichment score</text>
<text x="53.40" y="341.50" font-size="8" text-anchor="middle" class="cd" textLength="19.50" lengthAdjust="spacingAndGlyphs" transform="rotate(-90 53.40 341.50)">Ranked</text>
<text x="63.50" y="342.30" font-size="8" text-anchor="middle" class="cd" textLength="27.50" lengthAdjust="spacingAndGlyphs" transform="rotate(-90 63.50 342.30)">list metric</text>
<polygon points="360.0,249.5 360.7,250.0 361.4,250.5 362.1,251.0 362.6,251.5 363.0,252.0 363.4,252.5 363.9,253.0 364.3,253.5 364.6,254.0 364.9,254.5 365.2,255.0 365.6,255.5 365.9,256.0 366.2,256.5 366.4,257.0 366.7,257.5 366.9,258.0 367.1,258.5 367.3,259.0 367.5,259.5 367.7,260.0 368.0,260.5 368.2,261.0 368.4,261.5 368.6,262.0 368.8,262.5 369.0,263.0 369.2,263.5 369.5,264.0 369.7,264.5 369.9,265.0 370.1,265.5 370.3,266.0 370.5,266.5 370.8,267.0 371.0,267.5 371.2,268.0 371.4,268.5 371.6,269.0 371.8,269.5 372.0,270.0 372.3,270.5 372.5,271.0 372.7,271.5 372.9,272.0 373.1,272.5 373.3,273.0 373.5,273.5 373.8,274.0 374.0,274.5 374.2,275.0 374.4,275.5 374.6,276.0 374.8,276.5 375.1,277.0 375.3,277.5 375.5,278.0 375.7,278.5 376.0,279.0 376.4,279.5 376.7,280.0 377.1,280.5 377.5,281.0 377.9,281.5 378.2,282.0 378.6,282.5 379.0,283.0 379.4,283.5 379.8,284.0 380.1,284.5 380.5,285.0 380.9,285.5 381.3,286.0 381.7,286.5 382.0,287.0 382.4,287.5 382.8,288.0 383.3,288.5 383.8,289.0 384.2,289.5 384.7,290.0 385.2,290.5 385.7,291.0 386.2,291.5 386.7,292.0 388.1,292.5 389.5,293.0 391.0,293.5 389.0,294.0 386.9,294.5 384.9,295.0 384.0,295.5 383.1,296.0 382.2,296.5 381.3,297.0 380.4,297.5 379.5,298.0 378.5,298.5 377.6,299.0 377.4,299.5 377.2,300.0 377.0,300.5 376.7,301.0 376.5,301.5 376.3,302.0 376.1,302.5 375.8,303.0 375.6,303.5 375.4,304.0 375.2,304.5 374.9,305.0 374.7,305.5 374.5,306.0 374.3,306.5 374.1,307.0 373.8,307.5 373.6,308.0 373.4,308.5 373.2,309.0 372.9,309.5 372.7,310.0 372.5,310.5 372.3,311.0 372.0,311.5 371.8,312.0 371.7,312.5 371.6,313.0 371.5,313.5 371.4,314.0 371.3,314.5 371.2,315.0 371.1,315.5 371.0,316.0 370.8,316.5 370.7,317.0 370.6,317.5 370.5,318.0 370.4,318.5 370.3,319.0 370.2,319.5 370.1,320.0 370.0,320.5 369.8,321.0 369.7,321.5 369.6,322.0 369.5,322.5 369.4,323.0 369.3,323.5 369.2,324.0 369.1,324.5 369.0,325.0 368.8,325.5 368.7,326.0 368.6,326.5 368.5,327.0 368.3,327.5 368.2,328.0 368.0,328.5 367.8,329.0 367.7,329.5 367.5,330.0 367.4,330.5 367.2,331.0 367.1,331.5 366.9,332.0 366.8,332.5 366.6,333.0 366.4,333.5 366.3,334.0 366.1,334.5 366.0,335.0 365.8,335.5 365.7,336.0 365.5,336.5 365.3,337.0 365.2,337.5 364.9,338.0 364.5,338.5 364.2,339.0 363.8,339.5 363.5,340.0 363.1,340.5 362.8,341.0 362.4,341.5 362.1,342.0 361.7,342.5 361.4,343.0 361.1,343.5 360.9,344.0 360.6,344.5 360.3,345.0 360.0,345.5 360.0,345.5 359.7,345.0 359.4,344.5 359.1,344.0 358.9,343.5 358.6,343.0 358.3,342.5 357.9,342.0 357.6,341.5 357.2,341.0 356.9,340.5 356.5,340.0 356.2,339.5 355.8,339.0 355.5,338.5 355.1,338.0 354.8,337.5 354.7,337.0 354.5,336.5 354.3,336.0 354.2,335.5 354.0,335.0 353.9,334.5 353.7,334.0 353.6,333.5 353.4,333.0 353.2,332.5 353.1,332.0 352.9,331.5 352.8,331.0 352.6,330.5 352.5,330.0 352.3,329.5 352.2,329.0 352.0,328.5 351.8,328.0 351.7,327.5 351.5,327.0 351.4,326.5 351.3,326.0 351.2,325.5 351.0,325.0 350.9,324.5 350.8,324.0 350.7,323.5 350.6,323.0 350.5,322.5 350.4,322.0 350.3,321.5 350.2,321.0 350.0,320.5 349.9,320.0 349.8,319.5 349.7,319.0 349.6,318.5 349.5,318.0 349.4,317.5 349.3,317.0 349.2,316.5 349.0,316.0 348.9,315.5 348.8,315.0 348.7,314.5 348.6,314.0 348.5,313.5 348.4,313.0 348.3,312.5 348.2,312.0 348.0,311.5 347.7,311.0 347.5,310.5 347.3,310.0 347.1,309.5 346.8,309.0 346.6,308.5 346.4,308.0 346.2,307.5 345.9,307.0 345.7,306.5 345.5,306.0 345.3,305.5 345.1,305.0 344.8,304.5 344.6,304.0 344.4,303.5 344.2,303.0 343.9,302.5 343.7,302.0 343.5,301.5 343.3,301.0 343.0,300.5 342.8,300.0 342.6,299.5 342.4,299.0 341.5,298.5 340.5,298.0 339.6,297.5 338.7,297.0 337.8,296.5 336.9,296.0 336.0,295.5 335.1,295.0 333.1,294.5 331.0,294.0 329.0,293.5 330.5,293.0 331.9,292.5 333.3,292.0 333.8,291.5 334.3,291.0 334.8,290.5 335.3,290.0 335.8,289.5 336.2,289.0 336.7,288.5 337.2,288.0 337.6,287.5 338.0,287.0 338.3,286.5 338.7,286.0 339.1,285.5 339.5,285.0 339.9,284.5 340.2,284.0 340.6,283.5 341.0,283.0 341.4,282.5 341.8,282.0 342.1,281.5 342.5,281.0 342.9,280.5 343.3,280.0 343.6,279.5 344.0,279.0 344.3,278.5 344.5,278.0 344.7,277.5 344.9,277.0 345.2,276.5 345.4,276.0 345.6,275.5 345.8,275.0 346.0,274.5 346.2,274.0 346.5,273.5 346.7,273.0 346.9,272.5 347.1,272.0 347.3,271.5 347.5,271.0 347.7,270.5 348.0,270.0 348.2,269.5 348.4,269.0 348.6,268.5 348.8,268.0 349.0,267.5 349.2,267.0 349.5,266.5 349.7,266.0 349.9,265.5 350.1,265.0 350.3,264.5 350.5,264.0 350.8,263.5 351.0,263.0 351.2,262.5 351.4,262.0 351.6,261.5 351.8,261.0 352.0,260.5 352.3,260.0 352.5,259.5 352.7,259.0 352.9,258.5 353.1,258.0 353.3,257.5 353.6,257.0 353.8,256.5 354.1,256.0 354.4,255.5 354.8,255.0 355.1,254.5 355.4,254.0 355.7,253.5 356.1,253.0 356.6,252.5 357.0,252.0 357.4,251.5 357.9,251.0 358.6,250.5 359.3,250.0 360.0,249.5" fill="#c9c6cc"/>
<rect x="359.40" y="243.00" width="2.00" height="17.00" fill="#fff" opacity="0.75"/>
<circle cx="333.27" cy="289.15" r="0.85" fill="#c9c6cc"/>
<circle cx="346.89" cy="309.22" r="0.85" fill="#c9c6cc"/>
<circle cx="405.19" cy="298.30" r="0.85" fill="#c9c6cc"/>
<circle cx="372.00" cy="322.47" r="0.85" fill="#c9c6cc"/>
<circle cx="341.90" cy="277.38" r="0.85" fill="#c9c6cc"/>
<circle cx="343.46" cy="311.31" r="0.85" fill="#c9c6cc"/>
<circle cx="386.52" cy="299.24" r="0.85" fill="#c9c6cc"/>
<circle cx="342.29" cy="273.20" r="0.85" fill="#c9c6cc"/>
<circle cx="335.99" cy="285.46" r="0.85" fill="#c9c6cc"/>
<circle cx="368.70" cy="327.27" r="0.85" fill="#c9c6cc"/>
<circle cx="357.42" cy="347.36" r="0.85" fill="#c9c6cc"/>
<circle cx="339.66" cy="301.30" r="0.85" fill="#c9c6cc"/>
<circle cx="350.20" cy="255.97" r="0.85" fill="#c9c6cc"/>
<circle cx="312.97" cy="290.65" r="0.85" fill="#c9c6cc"/>
<circle cx="342.23" cy="280.03" r="0.85" fill="#c9c6cc"/>
<circle cx="345.77" cy="307.14" r="0.85" fill="#c9c6cc"/>
<circle cx="370.65" cy="319.30" r="0.85" fill="#c9c6cc"/>
<circle cx="347.79" cy="270.07" r="0.85" fill="#c9c6cc"/>
<circle cx="328.18" cy="292.76" r="0.85" fill="#c9c6cc"/>
<circle cx="387.51" cy="292.22" r="0.85" fill="#c9c6cc"/>
<circle cx="381.50" cy="285.11" r="0.85" fill="#c9c6cc"/>
<circle cx="344.10" cy="325.87" r="0.85" fill="#c9c6cc"/>
<circle cx="340.17" cy="301.09" r="0.85" fill="#c9c6cc"/>
<circle cx="340.06" cy="279.01" r="0.85" fill="#c9c6cc"/>
<circle cx="379.93" cy="304.82" r="0.85" fill="#c9c6cc"/>
<circle cx="333.13" cy="287.77" r="0.85" fill="#c9c6cc"/>
<circle cx="396.93" cy="293.68" r="0.85" fill="#c9c6cc"/>
<circle cx="344.19" cy="278.19" r="0.85" fill="#c9c6cc"/>
<circle cx="338.50" cy="283.45" r="0.85" fill="#c9c6cc"/>
<circle cx="348.63" cy="314.93" r="0.85" fill="#c9c6cc"/>
<circle cx="362.55" cy="346.38" r="0.85" fill="#c9c6cc"/>
<circle cx="341.16" cy="300.74" r="0.85" fill="#c9c6cc"/>
<circle cx="384.17" cy="299.22" r="0.85" fill="#c9c6cc"/>
<circle cx="378.34" cy="280.02" r="0.85" fill="#c9c6cc"/>
<circle cx="370.71" cy="319.56" r="0.85" fill="#c9c6cc"/>
<circle cx="372.86" cy="312.66" r="0.85" fill="#c9c6cc"/>
<circle cx="374.32" cy="322.19" r="0.85" fill="#c9c6cc"/>
<circle cx="394.14" cy="286.93" r="0.85" fill="#c9c6cc"/>
<circle cx="384.13" cy="297.58" r="0.85" fill="#c9c6cc"/>
<circle cx="371.40" cy="267.20" r="0.85" fill="#c9c6cc"/>
<circle cx="375.36" cy="267.16" r="0.85" fill="#c9c6cc"/>
<circle cx="393.16" cy="295.72" r="0.85" fill="#c9c6cc"/>
<circle cx="379.42" cy="300.30" r="0.85" fill="#c9c6cc"/>
<circle cx="353.72" cy="334.03" r="0.85" fill="#c9c6cc"/>
<circle cx="351.34" cy="259.58" r="0.85" fill="#c9c6cc"/>
<circle cx="352.13" cy="335.46" r="0.85" fill="#c9c6cc"/>
<circle cx="373.39" cy="310.90" r="0.85" fill="#c9c6cc"/>
<circle cx="384.71" cy="297.63" r="0.85" fill="#c9c6cc"/>
<circle cx="343.94" cy="320.09" r="0.85" fill="#c9c6cc"/>
<circle cx="354.81" cy="252.30" r="0.85" fill="#c9c6cc"/>
<circle cx="391.82" cy="293.29" r="0.85" fill="#c9c6cc"/>
<circle cx="343.33" cy="276.10" r="0.85" fill="#c9c6cc"/>
<circle cx="345.69" cy="308.65" r="0.85" fill="#c9c6cc"/>
<circle cx="381.22" cy="283.12" r="0.85" fill="#c9c6cc"/>
<circle cx="341.46" cy="281.26" r="0.85" fill="#c9c6cc"/>
<circle cx="365.25" cy="252.73" r="0.85" fill="#c9c6cc"/>
<circle cx="375.53" cy="277.65" r="0.85" fill="#c9c6cc"/>
<circle cx="386.54" cy="288.50" r="0.85" fill="#c9c6cc"/>
<circle cx="370.78" cy="317.47" r="0.85" fill="#c9c6cc"/>
<circle cx="313.84" cy="295.63" r="0.85" fill="#c9c6cc"/>
<circle cx="387.62" cy="294.94" r="0.85" fill="#c9c6cc"/>
<circle cx="386.62" cy="286.58" r="0.85" fill="#c9c6cc"/>
<circle cx="337.79" cy="296.89" r="0.85" fill="#c9c6cc"/>
<circle cx="371.73" cy="313.64" r="0.85" fill="#c9c6cc"/>
<circle cx="389.61" cy="286.02" r="0.85" fill="#c9c6cc"/>
<circle cx="372.63" cy="267.66" r="0.85" fill="#c9c6cc"/>
<circle cx="338.75" cy="282.53" r="0.85" fill="#c9c6cc"/>
<circle cx="341.25" cy="303.38" r="0.85" fill="#c9c6cc"/>
<circle cx="330.09" cy="294.69" r="0.85" fill="#c9c6cc"/>
<circle cx="351.83" cy="337.60" r="0.85" fill="#c9c6cc"/>
<circle cx="340.58" cy="298.36" r="0.85" fill="#c9c6cc"/>
<circle cx="339.42" cy="276.13" r="0.85" fill="#c9c6cc"/>
<circle cx="346.60" cy="272.33" r="0.85" fill="#c9c6cc"/>
<circle cx="402.31" cy="293.58" r="0.85" fill="#c9c6cc"/>
<circle cx="398.38" cy="295.04" r="0.85" fill="#c9c6cc"/>
<circle cx="329.14" cy="293.12" r="0.85" fill="#c9c6cc"/>
<circle cx="334.31" cy="275.59" r="0.85" fill="#c9c6cc"/>
<circle cx="345.92" cy="319.15" r="0.85" fill="#c9c6cc"/>
<circle cx="344.45" cy="313.59" r="0.85" fill="#c9c6cc"/>
<circle cx="327.38" cy="294.51" r="0.85" fill="#c9c6cc"/>
<circle cx="338.98" cy="297.94" r="0.85" fill="#c9c6cc"/>
<circle cx="372.26" cy="315.91" r="0.85" fill="#c9c6cc"/>
<circle cx="342.62" cy="300.40" r="0.85" fill="#c9c6cc"/>
<circle cx="357.31" cy="351.32" r="0.85" fill="#c9c6cc"/>
<circle cx="374.75" cy="270.92" r="0.85" fill="#c9c6cc"/>
<circle cx="375.68" cy="277.02" r="0.85" fill="#c9c6cc"/>
<circle cx="375.02" cy="271.44" r="0.85" fill="#c9c6cc"/>
<circle cx="372.36" cy="313.81" r="0.85" fill="#c9c6cc"/>
<circle cx="345.28" cy="307.60" r="0.85" fill="#c9c6cc"/>
<circle cx="362.21" cy="342.57" r="0.85" fill="#c9c6cc"/>
<circle cx="369.63" cy="262.75" r="0.85" fill="#c9c6cc"/>
<circle cx="393.09" cy="293.87" r="0.85" fill="#c9c6cc"/>
<circle cx="383.32" cy="300.65" r="0.85" fill="#c9c6cc"/>
<circle cx="340.20" cy="308.12" r="0.85" fill="#c9c6cc"/>
<circle cx="341.08" cy="306.53" r="0.85" fill="#c9c6cc"/>
<circle cx="397.89" cy="285.32" r="0.85" fill="#c9c6cc"/>
<circle cx="333.46" cy="297.67" r="0.85" fill="#c9c6cc"/>
<circle cx="361.80" cy="242.50" r="0.85" fill="#c9c6cc"/>
<circle cx="322.64" cy="290.18" r="0.85" fill="#c9c6cc"/>
<circle cx="385.82" cy="288.79" r="0.85" fill="#c9c6cc"/>
<circle cx="348.40" cy="314.39" r="0.85" fill="#c9c6cc"/>
<circle cx="338.47" cy="299.02" r="0.85" fill="#c9c6cc"/>
<circle cx="394.99" cy="293.61" r="0.85" fill="#c9c6cc"/>
<circle cx="403.91" cy="289.73" r="0.85" fill="#c9c6cc"/>
<circle cx="344.34" cy="306.08" r="0.85" fill="#c9c6cc"/>
<circle cx="402.35" cy="291.59" r="0.85" fill="#c9c6cc"/>
<circle cx="354.11" cy="338.86" r="0.85" fill="#c9c6cc"/>
<circle cx="331.12" cy="287.89" r="0.85" fill="#c9c6cc"/>
<circle cx="317.25" cy="288.56" r="0.85" fill="#c9c6cc"/>
<circle cx="377.14" cy="305.79" r="0.85" fill="#c9c6cc"/>
<circle cx="376.31" cy="273.24" r="0.85" fill="#c9c6cc"/>
<circle cx="344.24" cy="276.90" r="0.85" fill="#c9c6cc"/>
<circle cx="381.04" cy="310.54" r="0.85" fill="#c9c6cc"/>
<circle cx="332.79" cy="287.06" r="0.85" fill="#c9c6cc"/>
<circle cx="373.85" cy="310.18" r="0.85" fill="#c9c6cc"/>
<circle cx="322.35" cy="292.36" r="0.85" fill="#c9c6cc"/>
<circle cx="372.06" cy="315.03" r="0.85" fill="#c9c6cc"/>
<circle cx="370.18" cy="326.46" r="0.85" fill="#c9c6cc"/>
<circle cx="371.86" cy="316.94" r="0.85" fill="#c9c6cc"/>
<circle cx="340.54" cy="281.02" r="0.85" fill="#c9c6cc"/>
<circle cx="384.85" cy="295.40" r="0.85" fill="#c9c6cc"/>
<circle cx="372.37" cy="269.35" r="0.85" fill="#c9c6cc"/>
<circle cx="330.74" cy="284.88" r="0.85" fill="#c9c6cc"/>
<circle cx="375.46" cy="307.84" r="0.85" fill="#c9c6cc"/>
<circle cx="378.90" cy="281.50" r="0.85" fill="#c9c6cc"/>
<circle cx="345.07" cy="317.85" r="0.85" fill="#c9c6cc"/>
<circle cx="356.84" cy="341.22" r="0.85" fill="#c9c6cc"/>
<circle cx="379.76" cy="277.43" r="0.85" fill="#c9c6cc"/>
<circle cx="348.93" cy="324.96" r="0.85" fill="#c9c6cc"/>
<circle cx="399.41" cy="293.46" r="0.85" fill="#c9c6cc"/>
<circle cx="344.40" cy="305.37" r="0.85" fill="#c9c6cc"/>
<circle cx="396.11" cy="294.10" r="0.85" fill="#c9c6cc"/>
<circle cx="386.43" cy="280.14" r="0.85" fill="#c9c6cc"/>
<circle cx="371.48" cy="268.35" r="0.85" fill="#c9c6cc"/>
<circle cx="336.15" cy="297.75" r="0.85" fill="#c9c6cc"/>
<circle cx="388.97" cy="287.26" r="0.85" fill="#c9c6cc"/>
<circle cx="345.47" cy="262.24" r="0.85" fill="#c9c6cc"/>
<circle cx="344.13" cy="315.04" r="0.85" fill="#c9c6cc"/>
<circle cx="372.16" cy="325.13" r="0.85" fill="#c9c6cc"/>
<circle cx="384.81" cy="295.35" r="0.85" fill="#c9c6cc"/>
<circle cx="330.51" cy="296.31" r="0.85" fill="#c9c6cc"/>
<circle cx="382.20" cy="284.73" r="0.85" fill="#c9c6cc"/>
<circle cx="348.52" cy="316.14" r="0.85" fill="#c9c6cc"/>
<circle cx="347.21" cy="313.85" r="0.85" fill="#c9c6cc"/>
<circle cx="373.61" cy="308.02" r="0.85" fill="#c9c6cc"/>
<circle cx="372.18" cy="317.96" r="0.85" fill="#c9c6cc"/>
<circle cx="383.57" cy="297.26" r="0.85" fill="#c9c6cc"/>
<circle cx="390.55" cy="293.95" r="0.85" fill="#c9c6cc"/>
<circle cx="391.11" cy="294.49" r="0.85" fill="#c9c6cc"/>
<circle cx="373.17" cy="312.95" r="0.85" fill="#c9c6cc"/>
<circle cx="391.60" cy="293.07" r="0.85" fill="#c9c6cc"/>
<circle cx="379.35" cy="303.80" r="0.85" fill="#c9c6cc"/>
<circle cx="391.74" cy="295.62" r="0.85" fill="#c9c6cc"/>
<circle cx="377.66" cy="318.31" r="0.85" fill="#c9c6cc"/>
<circle cx="332.42" cy="298.10" r="0.85" fill="#c9c6cc"/>
<circle cx="337.93" cy="300.26" r="0.85" fill="#c9c6cc"/>
<circle cx="373.78" cy="307.85" r="0.85" fill="#c9c6cc"/>
<circle cx="337.46" cy="296.49" r="0.85" fill="#c9c6cc"/>
<circle cx="374.33" cy="330.39" r="0.85" fill="#c9c6cc"/>
<circle cx="378.83" cy="267.46" r="0.85" fill="#c9c6cc"/>
<circle cx="399.45" cy="287.68" r="0.85" fill="#c9c6cc"/>
<circle cx="383.46" cy="287.94" r="0.85" fill="#c9c6cc"/>
<circle cx="396.89" cy="286.99" r="0.85" fill="#c9c6cc"/>
<circle cx="341.17" cy="271.96" r="0.85" fill="#c9c6cc"/>
<circle cx="366.92" cy="334.63" r="0.85" fill="#c9c6cc"/>
<circle cx="371.43" cy="317.69" r="0.85" fill="#c9c6cc"/>
<circle cx="377.61" cy="273.10" r="0.85" fill="#c9c6cc"/>
<circle cx="380.17" cy="304.18" r="0.85" fill="#c9c6cc"/>
<circle cx="384.93" cy="283.43" r="0.85" fill="#c9c6cc"/>
<circle cx="329.79" cy="289.17" r="0.85" fill="#c9c6cc"/>
<circle cx="346.34" cy="326.42" r="0.85" fill="#c9c6cc"/>
<circle cx="377.51" cy="300.00" r="0.85" fill="#c9c6cc"/>
<circle cx="362.34" cy="343.37" r="0.85" fill="#c9c6cc"/>
<circle cx="372.76" cy="310.26" r="0.85" fill="#c9c6cc"/>
<circle cx="375.07" cy="276.95" r="0.85" fill="#c9c6cc"/>
<circle cx="357.43" cy="348.20" r="0.85" fill="#c9c6cc"/>
<circle cx="378.86" cy="278.66" r="0.85" fill="#c9c6cc"/>
<circle cx="391.77" cy="296.63" r="0.85" fill="#c9c6cc"/>
<circle cx="328.46" cy="293.11" r="0.85" fill="#c9c6cc"/>
<circle cx="333.17" cy="294.93" r="0.85" fill="#c9c6cc"/>
<circle cx="338.72" cy="278.21" r="0.85" fill="#c9c6cc"/>
<circle cx="385.10" cy="286.70" r="0.85" fill="#c9c6cc"/>
<circle cx="373.93" cy="264.63" r="0.85" fill="#c9c6cc"/>
<circle cx="379.40" cy="305.90" r="0.85" fill="#c9c6cc"/>
<circle cx="342.63" cy="300.30" r="0.85" fill="#c9c6cc"/>
<circle cx="345.77" cy="314.77" r="0.85" fill="#c9c6cc"/>
<circle cx="409.45" cy="297.36" r="0.85" fill="#c9c6cc"/>
<circle cx="377.07" cy="302.52" r="0.85" fill="#c9c6cc"/>
<circle cx="357.28" cy="250.74" r="0.85" fill="#c9c6cc"/>
<circle cx="378.70" cy="278.35" r="0.85" fill="#c9c6cc"/>
<circle cx="356.58" cy="246.18" r="0.85" fill="#c9c6cc"/>
<circle cx="393.97" cy="285.14" r="0.85" fill="#c9c6cc"/>
<circle cx="354.53" cy="337.04" r="0.85" fill="#c9c6cc"/>
<circle cx="382.18" cy="299.08" r="0.85" fill="#c9c6cc"/>
<circle cx="372.70" cy="315.38" r="0.85" fill="#c9c6cc"/>
<circle cx="373.93" cy="271.82" r="0.85" fill="#c9c6cc"/>
<circle cx="377.91" cy="299.19" r="0.85" fill="#c9c6cc"/>
<circle cx="336.01" cy="270.48" r="0.85" fill="#c9c6cc"/>
<circle cx="368.88" cy="326.92" r="0.85" fill="#c9c6cc"/>
<circle cx="383.30" cy="283.55" r="0.85" fill="#c9c6cc"/>
<circle cx="349.40" cy="324.14" r="0.85" fill="#c9c6cc"/>
<circle cx="349.18" cy="319.83" r="0.85" fill="#c9c6cc"/>
<circle cx="323.82" cy="293.66" r="0.85" fill="#c9c6cc"/>
<circle cx="336.31" cy="296.40" r="0.85" fill="#c9c6cc"/>
<circle cx="333.02" cy="283.47" r="0.85" fill="#c9c6cc"/>
<circle cx="388.76" cy="294.07" r="0.85" fill="#c9c6cc"/>
<circle cx="380.60" cy="300.11" r="0.85" fill="#c9c6cc"/>
<circle cx="384.64" cy="299.47" r="0.85" fill="#c9c6cc"/>
<circle cx="338.43" cy="298.33" r="0.85" fill="#c9c6cc"/>
<circle cx="380.50" cy="275.51" r="0.85" fill="#c9c6cc"/>
<circle cx="323.84" cy="291.17" r="0.85" fill="#c9c6cc"/>
<circle cx="370.75" cy="265.05" r="0.85" fill="#c9c6cc"/>
<circle cx="312.29" cy="293.22" r="0.85" fill="#c9c6cc"/>
<circle cx="327.63" cy="283.42" r="0.85" fill="#c9c6cc"/>
<circle cx="376.01" cy="308.27" r="0.85" fill="#c9c6cc"/>
<circle cx="304.07" cy="290.27" r="0.85" fill="#c9c6cc"/>
<circle cx="341.13" cy="301.89" r="0.85" fill="#c9c6cc"/>
<circle cx="380.50" cy="283.86" r="0.85" fill="#c9c6cc"/>
<circle cx="337.97" cy="305.31" r="0.85" fill="#c9c6cc"/>
<circle cx="358.34" cy="250.65" r="0.85" fill="#c9c6cc"/>
<circle cx="344.41" cy="306.27" r="0.85" fill="#c9c6cc"/>
<circle cx="368.74" cy="332.32" r="0.85" fill="#c9c6cc"/>
<circle cx="326.79" cy="281.93" r="0.85" fill="#c9c6cc"/>
<circle cx="386.02" cy="290.03" r="0.85" fill="#c9c6cc"/>
<circle cx="349.52" cy="321.68" r="0.85" fill="#c9c6cc"/>
<circle cx="364.26" cy="339.56" r="0.85" fill="#c9c6cc"/>
<circle cx="407.19" cy="295.76" r="0.85" fill="#c9c6cc"/>
<circle cx="339.53" cy="297.68" r="0.85" fill="#c9c6cc"/>
<circle cx="343.94" cy="271.76" r="0.85" fill="#c9c6cc"/>
<circle cx="416.06" cy="293.59" r="0.85" fill="#c9c6cc"/>
<circle cx="339.94" cy="298.48" r="0.85" fill="#c9c6cc"/>
<circle cx="410.38" cy="294.27" r="0.85" fill="#c9c6cc"/>
<circle cx="343.83" cy="331.25" r="0.85" fill="#c9c6cc"/>
<circle cx="347.17" cy="310.16" r="0.85" fill="#c9c6cc"/>
<circle cx="328.24" cy="296.60" r="0.85" fill="#c9c6cc"/>
<circle cx="394.28" cy="292.70" r="0.85" fill="#c9c6cc"/>
<circle cx="411.70" cy="295.31" r="0.85" fill="#c9c6cc"/>
<circle cx="384.38" cy="295.75" r="0.85" fill="#c9c6cc"/>
<circle cx="353.02" cy="332.93" r="0.85" fill="#c9c6cc"/>
<circle cx="394.40" cy="298.02" r="0.85" fill="#c9c6cc"/>
<circle cx="371.70" cy="312.95" r="0.85" fill="#c9c6cc"/>
<circle cx="375.38" cy="271.44" r="0.85" fill="#c9c6cc"/>
<circle cx="342.59" cy="305.86" r="0.85" fill="#c9c6cc"/>
<circle cx="318.33" cy="289.92" r="0.85" fill="#c9c6cc"/>
<circle cx="396.79" cy="290.34" r="0.85" fill="#c9c6cc"/>
<circle cx="341.10" cy="298.45" r="0.85" fill="#c9c6cc"/>
<circle cx="381.22" cy="285.08" r="0.85" fill="#c9c6cc"/>
<circle cx="341.96" cy="260.88" r="0.85" fill="#c9c6cc"/>
<circle cx="341.62" cy="281.58" r="0.85" fill="#c9c6cc"/>
<circle cx="379.67" cy="302.81" r="0.85" fill="#c9c6cc"/>
<circle cx="376.51" cy="304.80" r="0.85" fill="#c9c6cc"/>
<circle cx="333.04" cy="278.80" r="0.85" fill="#c9c6cc"/>
<circle cx="378.73" cy="322.35" r="0.85" fill="#c9c6cc"/>
<circle cx="391.87" cy="295.60" r="0.85" fill="#c9c6cc"/>
<circle cx="383.74" cy="310.08" r="0.85" fill="#c9c6cc"/>
<circle cx="330.77" cy="283.10" r="0.85" fill="#c9c6cc"/>
<circle cx="378.33" cy="305.53" r="0.85" fill="#c9c6cc"/>
<circle cx="388.02" cy="284.63" r="0.85" fill="#c9c6cc"/>
<circle cx="378.37" cy="324.34" r="0.85" fill="#c9c6cc"/>
<circle cx="397.79" cy="289.63" r="0.85" fill="#c9c6cc"/>
<circle cx="369.19" cy="261.16" r="0.85" fill="#c9c6cc"/>
<circle cx="343.15" cy="304.76" r="0.85" fill="#c9c6cc"/>
<circle cx="368.15" cy="260.21" r="0.85" fill="#c9c6cc"/>
<circle cx="382.16" cy="286.08" r="0.85" fill="#c9c6cc"/>
<circle cx="342.54" cy="299.69" r="0.85" fill="#c9c6cc"/>
<circle cx="355.01" cy="252.82" r="0.85" fill="#c9c6cc"/>
<circle cx="348.93" cy="264.41" r="0.85" fill="#c9c6cc"/>
<circle cx="389.29" cy="291.44" r="0.85" fill="#c9c6cc"/>
<circle cx="351.68" cy="328.86" r="0.85" fill="#c9c6cc"/>
<circle cx="373.66" cy="308.11" r="0.85" fill="#c9c6cc"/>
<circle cx="392.20" cy="293.38" r="0.85" fill="#c9c6cc"/>
<circle cx="341.03" cy="301.38" r="0.85" fill="#c9c6cc"/>
<circle cx="347.30" cy="310.75" r="0.85" fill="#c9c6cc"/>
<circle cx="346.47" cy="312.30" r="0.85" fill="#c9c6cc"/>
<circle cx="325.40" cy="293.65" r="0.85" fill="#c9c6cc"/>
<circle cx="348.92" cy="321.52" r="0.85" fill="#c9c6cc"/>
<circle cx="369.20" cy="327.99" r="0.85" fill="#c9c6cc"/>
<circle cx="338.32" cy="309.90" r="0.85" fill="#c9c6cc"/>
<circle cx="374.94" cy="307.15" r="0.85" fill="#c9c6cc"/>
<circle cx="350.50" cy="262.34" r="0.85" fill="#c9c6cc"/>
<circle cx="375.54" cy="276.17" r="0.85" fill="#c9c6cc"/>
<circle cx="351.12" cy="330.32" r="0.85" fill="#c9c6cc"/>
<circle cx="325.03" cy="286.49" r="0.85" fill="#c9c6cc"/>
<circle cx="371.37" cy="314.93" r="0.85" fill="#c9c6cc"/>
<circle cx="386.55" cy="299.49" r="0.85" fill="#c9c6cc"/>
<circle cx="349.43" cy="265.82" r="0.85" fill="#c9c6cc"/>
<circle cx="377.34" cy="301.60" r="0.85" fill="#c9c6cc"/>
<circle cx="337.46" cy="304.55" r="0.85" fill="#c9c6cc"/>
<circle cx="390.62" cy="294.44" r="0.85" fill="#c9c6cc"/>
<circle cx="385.07" cy="298.12" r="0.85" fill="#c9c6cc"/>
<circle cx="332.15" cy="295.39" r="0.85" fill="#c9c6cc"/>
<circle cx="334.78" cy="288.99" r="0.85" fill="#c9c6cc"/>
<circle cx="378.12" cy="308.54" r="0.85" fill="#c9c6cc"/>
<circle cx="382.00" cy="281.09" r="0.85" fill="#c9c6cc"/>
<circle cx="402.54" cy="292.58" r="0.85" fill="#c9c6cc"/>
<circle cx="337.95" cy="307.34" r="0.85" fill="#c9c6cc"/>
<circle cx="410.74" cy="289.49" r="0.85" fill="#c9c6cc"/>
<circle cx="332.28" cy="290.35" r="0.85" fill="#c9c6cc"/>
<circle cx="343.52" cy="307.51" r="0.85" fill="#c9c6cc"/>
<circle cx="388.79" cy="283.10" r="0.85" fill="#c9c6cc"/>
<circle cx="387.05" cy="282.64" r="0.85" fill="#c9c6cc"/>
<circle cx="392.06" cy="291.93" r="0.85" fill="#c9c6cc"/>
<circle cx="351.82" cy="257.87" r="0.85" fill="#c9c6cc"/>
<circle cx="370.56" cy="264.58" r="0.85" fill="#c9c6cc"/>
<circle cx="375.92" cy="275.34" r="0.85" fill="#c9c6cc"/>
<circle cx="341.58" cy="306.90" r="0.85" fill="#c9c6cc"/>
<circle cx="380.04" cy="301.29" r="0.85" fill="#c9c6cc"/>
<circle cx="372.83" cy="314.15" r="0.85" fill="#c9c6cc"/>
<circle cx="381.19" cy="285.10" r="0.85" fill="#c9c6cc"/>
<circle cx="378.15" cy="304.03" r="0.85" fill="#c9c6cc"/>
<circle cx="316.16" cy="291.80" r="0.85" fill="#c9c6cc"/>
<circle cx="375.17" cy="305.10" r="0.85" fill="#c9c6cc"/>
<circle cx="336.90" cy="287.46" r="0.85" fill="#c9c6cc"/>
<circle cx="343.34" cy="303.86" r="0.85" fill="#c9c6cc"/>
<circle cx="389.48" cy="290.21" r="0.85" fill="#c9c6cc"/>
<circle cx="326.11" cy="289.46" r="0.85" fill="#c9c6cc"/>
<circle cx="350.45" cy="330.81" r="0.85" fill="#c9c6cc"/>
<circle cx="399.17" cy="297.59" r="0.85" fill="#c9c6cc"/>
<circle cx="373.90" cy="316.49" r="0.85" fill="#c9c6cc"/>
<circle cx="337.15" cy="304.87" r="0.85" fill="#c9c6cc"/>
<circle cx="338.91" cy="282.28" r="0.85" fill="#c9c6cc"/>
<circle cx="388.80" cy="288.74" r="0.85" fill="#c9c6cc"/>
<circle cx="395.20" cy="294.26" r="0.85" fill="#c9c6cc"/>
<circle cx="340.55" cy="316.21" r="0.85" fill="#c9c6cc"/>
<circle cx="348.54" cy="314.29" r="0.85" fill="#c9c6cc"/>
<circle cx="373.46" cy="271.59" r="0.85" fill="#c9c6cc"/>
<circle cx="340.29" cy="282.89" r="0.85" fill="#c9c6cc"/>
<circle cx="375.20" cy="275.83" r="0.85" fill="#c9c6cc"/>
<circle cx="375.99" cy="277.81" r="0.85" fill="#c9c6cc"/>
<circle cx="390.42" cy="292.12" r="0.85" fill="#c9c6cc"/>
<circle cx="383.39" cy="288.61" r="0.85" fill="#c9c6cc"/>
<circle cx="348.21" cy="312.69" r="0.85" fill="#c9c6cc"/>
<circle cx="337.25" cy="287.14" r="0.85" fill="#c9c6cc"/>
<circle cx="335.84" cy="285.63" r="0.85" fill="#c9c6cc"/>
<circle cx="340.08" cy="299.83" r="0.85" fill="#c9c6cc"/>
<circle cx="379.41" cy="300.28" r="0.85" fill="#c9c6cc"/>
<circle cx="333.13" cy="287.43" r="0.85" fill="#c9c6cc"/>
<circle cx="377.79" cy="298.98" r="0.85" fill="#c9c6cc"/>
<circle cx="333.32" cy="290.00" r="0.85" fill="#c9c6cc"/>
<circle cx="338.80" cy="278.78" r="0.85" fill="#c9c6cc"/>
<circle cx="343.62" cy="302.40" r="0.85" fill="#c9c6cc"/>
<circle cx="334.76" cy="304.59" r="0.85" fill="#c9c6cc"/>
<circle cx="346.44" cy="309.13" r="0.85" fill="#c9c6cc"/>
<circle cx="424.03" cy="296.45" r="0.85" fill="#c9c6cc"/>
<circle cx="343.76" cy="304.57" r="0.85" fill="#c9c6cc"/>
<circle cx="378.93" cy="302.06" r="0.85" fill="#c9c6cc"/>
<circle cx="381.92" cy="273.78" r="0.85" fill="#c9c6cc"/>
<circle cx="374.02" cy="311.49" r="0.85" fill="#c9c6cc"/>
<circle cx="381.88" cy="299.32" r="0.85" fill="#c9c6cc"/>
<circle cx="363.11" cy="346.77" r="0.85" fill="#c9c6cc"/>
<circle cx="342.47" cy="271.65" r="0.85" fill="#c9c6cc"/>
<circle cx="343.31" cy="309.43" r="0.85" fill="#c9c6cc"/>
<circle cx="358.19" cy="345.92" r="0.85" fill="#c9c6cc"/>
<circle cx="384.59" cy="284.74" r="0.85" fill="#c9c6cc"/>
<circle cx="379.51" cy="283.48" r="0.85" fill="#c9c6cc"/>
<circle cx="373.03" cy="314.93" r="0.85" fill="#c9c6cc"/>
<circle cx="330.89" cy="286.42" r="0.85" fill="#c9c6cc"/>
<circle cx="377.08" cy="303.86" r="0.85" fill="#c9c6cc"/>
<circle cx="389.64" cy="289.12" r="0.85" fill="#c9c6cc"/>
<circle cx="337.08" cy="296.71" r="0.85" fill="#c9c6cc"/>
<circle cx="388.56" cy="288.79" r="0.85" fill="#c9c6cc"/>
<circle cx="338.52" cy="302.52" r="0.85" fill="#c9c6cc"/>
<circle cx="383.23" cy="286.27" r="0.85" fill="#c9c6cc"/>
<circle cx="335.11" cy="297.65" r="0.85" fill="#c9c6cc"/>
<circle cx="375.54" cy="314.32" r="0.85" fill="#c9c6cc"/>
<circle cx="379.11" cy="301.11" r="0.85" fill="#c9c6cc"/>
<circle cx="332.43" cy="285.46" r="0.85" fill="#c9c6cc"/>
<circle cx="325.03" cy="290.04" r="0.85" fill="#c9c6cc"/>
<circle cx="347.77" cy="269.52" r="0.85" fill="#c9c6cc"/>
<circle cx="355.33" cy="340.50" r="0.85" fill="#c9c6cc"/>
<circle cx="343.00" cy="302.64" r="0.85" fill="#c9c6cc"/>
<circle cx="341.41" cy="302.28" r="0.85" fill="#c9c6cc"/>
<circle cx="393.68" cy="298.19" r="0.85" fill="#c9c6cc"/>
<circle cx="382.84" cy="285.71" r="0.85" fill="#c9c6cc"/>
<circle cx="351.48" cy="328.49" r="0.85" fill="#c9c6cc"/>
<circle cx="386.57" cy="289.33" r="0.85" fill="#c9c6cc"/>
<circle cx="389.46" cy="289.61" r="0.85" fill="#c9c6cc"/>
<circle cx="337.99" cy="304.83" r="0.85" fill="#c9c6cc"/>
<circle cx="372.76" cy="271.12" r="0.85" fill="#c9c6cc"/>
<circle cx="320.40" cy="297.14" r="0.85" fill="#c9c6cc"/>
<circle cx="364.90" cy="254.22" r="0.85" fill="#c9c6cc"/>
<circle cx="390.54" cy="292.57" r="0.85" fill="#c9c6cc"/>
<circle cx="365.60" cy="340.13" r="0.85" fill="#c9c6cc"/>
<circle cx="379.45" cy="310.99" r="0.85" fill="#c9c6cc"/>
<circle cx="386.85" cy="286.73" r="0.85" fill="#c9c6cc"/>
<circle cx="333.77" cy="291.38" r="0.85" fill="#c9c6cc"/>
<circle cx="378.81" cy="300.24" r="0.85" fill="#c9c6cc"/>
<circle cx="385.33" cy="287.41" r="0.85" fill="#c9c6cc"/>
<circle cx="384.44" cy="299.00" r="0.85" fill="#c9c6cc"/>
<circle cx="371.12" cy="316.87" r="0.85" fill="#c9c6cc"/>
<circle cx="349.59" cy="323.60" r="0.85" fill="#c9c6cc"/>
<circle cx="370.37" cy="323.46" r="0.85" fill="#c9c6cc"/>
<circle cx="395.54" cy="293.33" r="0.85" fill="#c9c6cc"/>
<circle cx="380.87" cy="303.11" r="0.85" fill="#c9c6cc"/>
<circle cx="372.37" cy="325.70" r="0.85" fill="#c9c6cc"/>
<circle cx="320.06" cy="292.20" r="0.85" fill="#c9c6cc"/>
<circle cx="367.84" cy="259.97" r="0.85" fill="#c9c6cc"/>
<circle cx="329.59" cy="291.69" r="0.85" fill="#c9c6cc"/>
<circle cx="345.54" cy="268.09" r="0.85" fill="#c9c6cc"/>
<circle cx="382.57" cy="306.22" r="0.85" fill="#c9c6cc"/>
<circle cx="330.89" cy="292.07" r="0.85" fill="#c9c6cc"/>
<circle cx="398.46" cy="293.96" r="0.85" fill="#c9c6cc"/>
<circle cx="340.57" cy="282.07" r="0.85" fill="#c9c6cc"/>
<circle cx="342.47" cy="271.71" r="0.85" fill="#c9c6cc"/>
<circle cx="324.06" cy="293.73" r="0.85" fill="#c9c6cc"/>
<circle cx="334.82" cy="289.59" r="0.85" fill="#c9c6cc"/>
<circle cx="385.43" cy="284.08" r="0.85" fill="#c9c6cc"/>
<circle cx="379.78" cy="272.62" r="0.85" fill="#c9c6cc"/>
<circle cx="391.55" cy="297.77" r="0.85" fill="#c9c6cc"/>
<circle cx="387.40" cy="285.60" r="0.85" fill="#c9c6cc"/>
<circle cx="390.42" cy="286.94" r="0.85" fill="#c9c6cc"/>
<circle cx="323.36" cy="292.28" r="0.85" fill="#c9c6cc"/>
<circle cx="383.65" cy="285.20" r="0.85" fill="#c9c6cc"/>
<circle cx="390.36" cy="295.19" r="0.85" fill="#c9c6cc"/>
<circle cx="357.35" cy="246.47" r="0.85" fill="#c9c6cc"/>
<circle cx="375.72" cy="308.88" r="0.85" fill="#c9c6cc"/>
<circle cx="373.42" cy="321.98" r="0.85" fill="#c9c6cc"/>
<circle cx="370.81" cy="323.72" r="0.85" fill="#c9c6cc"/>
<circle cx="372.43" cy="313.39" r="0.85" fill="#c9c6cc"/>
<circle cx="376.97" cy="280.31" r="0.85" fill="#c9c6cc"/>
<circle cx="331.51" cy="289.94" r="0.85" fill="#c9c6cc"/>
<circle cx="327.40" cy="288.03" r="0.85" fill="#c9c6cc"/>
<circle cx="396.17" cy="293.52" r="0.85" fill="#c9c6cc"/>
<circle cx="348.67" cy="318.47" r="0.85" fill="#c9c6cc"/>
<circle cx="339.27" cy="307.56" r="0.85" fill="#c9c6cc"/>
<circle cx="380.60" cy="300.23" r="0.85" fill="#c9c6cc"/>
<circle cx="374.62" cy="305.81" r="0.85" fill="#c9c6cc"/>
<circle cx="326.29" cy="296.25" r="0.85" fill="#c9c6cc"/>
<circle cx="390.04" cy="289.14" r="0.85" fill="#c9c6cc"/>
<circle cx="387.71" cy="315.76" r="0.85" fill="#c9c6cc"/>
<circle cx="333.12" cy="298.89" r="0.85" fill="#c9c6cc"/>
<circle cx="344.11" cy="307.36" r="0.85" fill="#c9c6cc"/>
<circle cx="318.48" cy="292.55" r="0.85" fill="#c9c6cc"/>
<circle cx="387.01" cy="274.31" r="0.85" fill="#c9c6cc"/>
<circle cx="341.63" cy="299.33" r="0.85" fill="#c9c6cc"/>
<circle cx="330.01" cy="291.90" r="0.85" fill="#c9c6cc"/>
<circle cx="378.22" cy="270.69" r="0.85" fill="#c9c6cc"/>
<circle cx="338.66" cy="298.44" r="0.85" fill="#c9c6cc"/>
<circle cx="347.26" cy="259.68" r="0.85" fill="#c9c6cc"/>
<circle cx="337.08" cy="300.55" r="0.85" fill="#c9c6cc"/>
<circle cx="380.88" cy="300.89" r="0.85" fill="#c9c6cc"/>
<circle cx="370.42" cy="327.83" r="0.85" fill="#c9c6cc"/>
<circle cx="331.18" cy="290.03" r="0.85" fill="#c9c6cc"/>
<circle cx="348.89" cy="258.95" r="0.85" fill="#c9c6cc"/>
<circle cx="323.08" cy="290.61" r="0.85" fill="#c9c6cc"/>
<circle cx="348.47" cy="316.31" r="0.85" fill="#c9c6cc"/>
<circle cx="330.21" cy="289.71" r="0.85" fill="#c9c6cc"/>
<circle cx="332.89" cy="300.55" r="0.85" fill="#c9c6cc"/>
<circle cx="335.70" cy="285.90" r="0.85" fill="#c9c6cc"/>
<circle cx="330.27" cy="305.14" r="0.85" fill="#c9c6cc"/>
<circle cx="348.50" cy="316.25" r="0.85" fill="#c9c6cc"/>
<circle cx="349.11" cy="265.85" r="0.85" fill="#c9c6cc"/>
<circle cx="378.16" cy="305.35" r="0.85" fill="#c9c6cc"/>
<circle cx="390.47" cy="276.76" r="0.85" fill="#c9c6cc"/>
<circle cx="338.73" cy="279.96" r="0.85" fill="#c9c6cc"/>
<circle cx="347.18" cy="324.17" r="0.85" fill="#c9c6cc"/>
<circle cx="377.23" cy="307.54" r="0.85" fill="#c9c6cc"/>
<circle cx="335.11" cy="305.43" r="0.85" fill="#c9c6cc"/>
<circle cx="338.42" cy="283.26" r="0.85" fill="#c9c6cc"/>
<circle cx="325.24" cy="290.68" r="0.85" fill="#c9c6cc"/>
<circle cx="332.94" cy="292.11" r="0.85" fill="#c9c6cc"/>
<circle cx="342.55" cy="304.20" r="0.85" fill="#c9c6cc"/>
<circle cx="378.73" cy="309.16" r="0.85" fill="#c9c6cc"/>
<circle cx="352.27" cy="329.88" r="0.85" fill="#c9c6cc"/>
<circle cx="396.12" cy="294.68" r="0.85" fill="#c9c6cc"/>
<circle cx="381.41" cy="280.93" r="0.85" fill="#c9c6cc"/>
<circle cx="344.87" cy="270.80" r="0.85" fill="#c9c6cc"/>
<circle cx="321.39" cy="299.73" r="0.85" fill="#c9c6cc"/>
<circle cx="327.14" cy="293.53" r="0.85" fill="#c9c6cc"/>
<circle cx="388.98" cy="297.08" r="0.85" fill="#c9c6cc"/>
<circle cx="364.08" cy="354.12" r="0.85" fill="#c9c6cc"/>
<circle cx="371.15" cy="318.14" r="0.85" fill="#c9c6cc"/>
<circle cx="344.94" cy="274.06" r="0.85" fill="#c9c6cc"/>
<circle cx="381.76" cy="297.01" r="0.85" fill="#c9c6cc"/>
<circle cx="368.49" cy="328.06" r="0.85" fill="#c9c6cc"/>
<circle cx="379.79" cy="310.04" r="0.85" fill="#c9c6cc"/>
<circle cx="371.77" cy="260.99" r="0.85" fill="#c9c6cc"/>
<circle cx="393.01" cy="294.65" r="0.85" fill="#c9c6cc"/>
<circle cx="319.54" cy="291.63" r="0.85" fill="#c9c6cc"/>
<circle cx="345.22" cy="264.43" r="0.85" fill="#c9c6cc"/>
<circle cx="374.35" cy="306.54" r="0.85" fill="#c9c6cc"/>
<circle cx="340.08" cy="298.10" r="0.85" fill="#c9c6cc"/>
<circle cx="385.99" cy="279.75" r="0.85" fill="#c9c6cc"/>
<circle cx="367.77" cy="258.73" r="0.85" fill="#c9c6cc"/>
<circle cx="375.61" cy="267.75" r="0.85" fill="#c9c6cc"/>
<circle cx="374.42" cy="308.25" r="0.85" fill="#c9c6cc"/>
<circle cx="378.59" cy="315.35" r="0.85" fill="#c9c6cc"/>
<circle cx="356.13" cy="349.43" r="0.85" fill="#c9c6cc"/>
<circle cx="339.04" cy="283.34" r="0.85" fill="#c9c6cc"/>
<circle cx="392.37" cy="291.66" r="0.85" fill="#c9c6cc"/>
<circle cx="364.35" cy="338.87" r="0.85" fill="#c9c6cc"/>
<circle cx="321.58" cy="293.94" r="0.85" fill="#c9c6cc"/>
<circle cx="337.97" cy="277.53" r="0.85" fill="#c9c6cc"/>
<circle cx="342.66" cy="301.26" r="0.85" fill="#c9c6cc"/>
<circle cx="332.99" cy="289.85" r="0.85" fill="#c9c6cc"/>
<circle cx="378.13" cy="280.85" r="0.85" fill="#c9c6cc"/>
<circle cx="344.83" cy="312.17" r="0.85" fill="#c9c6cc"/>
<circle cx="333.90" cy="285.61" r="0.85" fill="#c9c6cc"/>
<circle cx="383.16" cy="281.55" r="0.85" fill="#c9c6cc"/>
<circle cx="339.00" cy="281.83" r="0.85" fill="#c9c6cc"/>
<circle cx="367.60" cy="255.13" r="0.85" fill="#c9c6cc"/>
<circle cx="383.62" cy="274.07" r="0.85" fill="#c9c6cc"/>
<circle cx="331.82" cy="290.47" r="0.85" fill="#c9c6cc"/>
<circle cx="344.29" cy="307.83" r="0.85" fill="#c9c6cc"/>
<circle cx="346.29" cy="318.49" r="0.85" fill="#c9c6cc"/>
<circle cx="346.94" cy="271.73" r="0.85" fill="#c9c6cc"/>
<circle cx="375.49" cy="308.57" r="0.85" fill="#c9c6cc"/>
<circle cx="328.32" cy="289.29" r="0.85" fill="#c9c6cc"/>
<circle cx="385.25" cy="296.33" r="0.85" fill="#c9c6cc"/>
<circle cx="344.51" cy="313.35" r="0.85" fill="#c9c6cc"/>
<circle cx="336.71" cy="288.05" r="0.85" fill="#c9c6cc"/>
<circle cx="334.81" cy="296.83" r="0.85" fill="#c9c6cc"/>
<circle cx="337.66" cy="308.67" r="0.85" fill="#c9c6cc"/>
<circle cx="401.65" cy="296.17" r="0.85" fill="#c9c6cc"/>
<circle cx="391.97" cy="295.27" r="0.85" fill="#c9c6cc"/>
<circle cx="336.34" cy="286.03" r="0.85" fill="#c9c6cc"/>
<circle cx="362.97" cy="246.08" r="0.85" fill="#c9c6cc"/>
<circle cx="378.53" cy="277.14" r="0.85" fill="#c9c6cc"/>
<circle cx="345.48" cy="315.78" r="0.85" fill="#c9c6cc"/>
<circle cx="419.73" cy="294.08" r="0.85" fill="#c9c6cc"/>
<circle cx="349.38" cy="266.26" r="0.85" fill="#c9c6cc"/>
<circle cx="326.57" cy="293.38" r="0.85" fill="#c9c6cc"/>
<circle cx="368.54" cy="329.97" r="0.85" fill="#c9c6cc"/>
<circle cx="371.13" cy="316.19" r="0.85" fill="#c9c6cc"/>
<circle cx="369.89" cy="324.82" r="0.85" fill="#c9c6cc"/>
<circle cx="385.14" cy="306.34" r="0.85" fill="#c9c6cc"/>
<circle cx="380.49" cy="283.16" r="0.85" fill="#c9c6cc"/>
<circle cx="345.06" cy="322.45" r="0.85" fill="#c9c6cc"/>
<circle cx="342.79" cy="300.97" r="0.85" fill="#c9c6cc"/>
<circle cx="376.70" cy="302.85" r="0.85" fill="#c9c6cc"/>
<circle cx="349.63" cy="326.63" r="0.85" fill="#c9c6cc"/>
<circle cx="376.76" cy="305.26" r="0.85" fill="#c9c6cc"/>
<circle cx="372.50" cy="265.97" r="0.85" fill="#c9c6cc"/>
<circle cx="352.90" cy="332.43" r="0.85" fill="#c9c6cc"/>
<circle cx="349.81" cy="265.01" r="0.85" fill="#c9c6cc"/>
<circle cx="311.44" cy="296.22" r="0.85" fill="#c9c6cc"/>
<circle cx="376.29" cy="316.05" r="0.85" fill="#c9c6cc"/>
<circle cx="411.22" cy="293.33" r="0.85" fill="#c9c6cc"/>
<circle cx="381.65" cy="283.81" r="0.85" fill="#c9c6cc"/>
<circle cx="332.46" cy="317.65" r="0.85" fill="#c9c6cc"/>
<circle cx="350.83" cy="262.21" r="0.85" fill="#c9c6cc"/>
<circle cx="376.89" cy="307.33" r="0.85" fill="#c9c6cc"/>
<circle cx="387.59" cy="289.97" r="0.85" fill="#c9c6cc"/>
<circle cx="362.71" cy="353.46" r="0.85" fill="#c9c6cc"/>
<circle cx="336.14" cy="287.03" r="0.85" fill="#c9c6cc"/>
<circle cx="383.69" cy="287.69" r="0.85" fill="#c9c6cc"/>
<circle cx="388.12" cy="295.71" r="0.85" fill="#c9c6cc"/>
<circle cx="375.96" cy="305.84" r="0.85" fill="#c9c6cc"/>
<circle cx="351.45" cy="330.07" r="0.85" fill="#c9c6cc"/>
<circle cx="395.13" cy="307.08" r="0.85" fill="#c9c6cc"/>
<circle cx="333.17" cy="295.86" r="0.85" fill="#c9c6cc"/>
<circle cx="385.34" cy="298.81" r="0.85" fill="#c9c6cc"/>
<circle cx="329.13" cy="293.22" r="0.85" fill="#c9c6cc"/>
<circle cx="398.22" cy="291.00" r="0.85" fill="#c9c6cc"/>
<circle cx="390.31" cy="288.39" r="0.85" fill="#c9c6cc"/>
<circle cx="383.21" cy="297.89" r="0.85" fill="#c9c6cc"/>
<circle cx="379.88" cy="310.68" r="0.85" fill="#c9c6cc"/>
<circle cx="381.06" cy="297.51" r="0.85" fill="#c9c6cc"/>
<circle cx="350.54" cy="327.79" r="0.85" fill="#c9c6cc"/>
<circle cx="358.12" cy="239.11" r="0.85" fill="#c9c6cc"/>
<circle cx="359.67" cy="249.83" r="0.85" fill="#c9c6cc"/>
<circle cx="366.46" cy="249.57" r="0.85" fill="#c9c6cc"/>
<circle cx="359.97" cy="247.37" r="0.85" fill="#c9c6cc"/>
<circle cx="350.48" cy="247.03" r="0.85" fill="#c9c6cc"/>
<circle cx="351.95" cy="251.34" r="0.85" fill="#c9c6cc"/>
<circle cx="353.05" cy="238.52" r="0.85" fill="#c9c6cc"/>
<circle cx="353.77" cy="229.22" r="0.85" fill="#c9c6cc"/>
<circle cx="361.49" cy="241.61" r="0.85" fill="#c9c6cc"/>
<circle cx="359.08" cy="247.48" r="0.85" fill="#c9c6cc"/>
<circle cx="361.26" cy="247.44" r="0.85" fill="#c9c6cc"/>
<circle cx="357.76" cy="245.48" r="0.85" fill="#c9c6cc"/>
<circle cx="362.25" cy="249.44" r="0.85" fill="#c9c6cc"/>
<circle cx="360.64" cy="249.08" r="0.85" fill="#c9c6cc"/>
<circle cx="351.44" cy="239.26" r="0.85" fill="#c9c6cc"/>
<circle cx="357.22" cy="249.20" r="0.85" fill="#c9c6cc"/>
<circle cx="360.95" cy="251.12" r="0.85" fill="#c9c6cc"/>
<circle cx="346.16" cy="231.76" r="0.85" fill="#c9c6cc"/>
<circle cx="366.56" cy="244.11" r="0.85" fill="#c9c6cc"/>
<circle cx="362.93" cy="249.91" r="0.85" fill="#c9c6cc"/>
<circle cx="364.27" cy="248.23" r="0.85" fill="#c9c6cc"/>
<circle cx="359.04" cy="246.79" r="0.85" fill="#c9c6cc"/>
<circle cx="358.87" cy="247.62" r="0.85" fill="#c9c6cc"/>
<circle cx="353.07" cy="247.96" r="0.85" fill="#c9c6cc"/>
<circle cx="348.88" cy="245.04" r="0.85" fill="#c9c6cc"/>
<circle cx="358.94" cy="244.44" r="0.85" fill="#c9c6cc"/>
<circle cx="367.63" cy="251.12" r="0.85" fill="#c9c6cc"/>
<circle cx="351.76" cy="250.08" r="0.85" fill="#c9c6cc"/>
<circle cx="359.28" cy="249.50" r="0.85" fill="#c9c6cc"/>
<circle cx="362.92" cy="250.00" r="0.85" fill="#c9c6cc"/>
<circle cx="354.20" cy="249.16" r="0.85" fill="#c9c6cc"/>
<circle cx="353.00" cy="248.47" r="0.85" fill="#c9c6cc"/>
<circle cx="359.06" cy="248.77" r="0.85" fill="#c9c6cc"/>
<circle cx="361.73" cy="245.09" r="0.85" fill="#c9c6cc"/>
<circle cx="368.11" cy="250.85" r="0.85" fill="#c9c6cc"/>
<circle cx="356.76" cy="232.03" r="0.85" fill="#c9c6cc"/>
<circle cx="367.34" cy="248.54" r="0.85" fill="#c9c6cc"/>
<circle cx="367.93" cy="250.67" r="0.85" fill="#c9c6cc"/>
<circle cx="370.86" cy="240.68" r="0.85" fill="#c9c6cc"/>
<circle cx="349.22" cy="244.41" r="0.85" fill="#c9c6cc"/>
<circle cx="366.31" cy="344.44" r="0.85" fill="#c9c6cc"/>
<circle cx="359.12" cy="344.20" r="0.85" fill="#c9c6cc"/>
<circle cx="366.24" cy="341.77" r="0.85" fill="#c9c6cc"/>
<circle cx="352.38" cy="341.32" r="0.85" fill="#c9c6cc"/>
<circle cx="353.60" cy="342.02" r="0.85" fill="#c9c6cc"/>
<circle cx="358.10" cy="347.40" r="0.85" fill="#c9c6cc"/>
<circle cx="364.43" cy="343.18" r="0.85" fill="#c9c6cc"/>
<circle cx="353.80" cy="344.66" r="0.85" fill="#c9c6cc"/>
<circle cx="363.06" cy="340.98" r="0.85" fill="#c9c6cc"/>
<circle cx="368.55" cy="348.68" r="0.85" fill="#c9c6cc"/>
<circle cx="357.16" cy="341.24" r="0.85" fill="#c9c6cc"/>
<circle cx="357.14" cy="343.70" r="0.85" fill="#c9c6cc"/>
<circle cx="352.47" cy="340.86" r="0.85" fill="#c9c6cc"/>
<circle cx="361.74" cy="347.79" r="0.85" fill="#c9c6cc"/>
<circle cx="355.14" cy="345.20" r="0.85" fill="#c9c6cc"/>
<circle cx="362.32" cy="343.76" r="0.85" fill="#c9c6cc"/>
<circle cx="411.42" cy="293.06" r="0.85" fill="#c9c6cc"/>
<circle cx="313.27" cy="293.60" r="0.85" fill="#c9c6cc"/>
<circle cx="404.05" cy="294.51" r="0.85" fill="#c9c6cc"/>
<circle cx="305.92" cy="292.08" r="0.85" fill="#c9c6cc"/>
<circle cx="422.25" cy="293.51" r="0.85" fill="#c9c6cc"/>
<circle cx="432.08" cy="293.44" r="0.85" fill="#c9c6cc"/>
<circle cx="417.71" cy="293.49" r="0.85" fill="#c9c6cc"/>
<circle cx="416.75" cy="291.75" r="0.85" fill="#c9c6cc"/>
<circle cx="447.68" cy="296.38" r="0.85" fill="#c9c6cc"/>
<circle cx="314.62" cy="294.42" r="0.85" fill="#c9c6cc"/>
<circle cx="313.11" cy="292.57" r="0.85" fill="#c9c6cc"/>
<circle cx="413.36" cy="296.53" r="0.85" fill="#c9c6cc"/>
<circle cx="315.87" cy="293.04" r="0.85" fill="#c9c6cc"/>
<circle cx="402.74" cy="292.08" r="0.85" fill="#c9c6cc"/>
<circle cx="313.19" cy="293.35" r="0.85" fill="#c9c6cc"/>
<circle cx="424.16" cy="289.67" r="0.85" fill="#c9c6cc"/>
<circle cx="310.20" cy="296.81" r="0.85" fill="#c9c6cc"/>
<circle cx="407.99" cy="293.70" r="0.85" fill="#c9c6cc"/>
<circle cx="312.91" cy="293.29" r="0.85" fill="#c9c6cc"/>
<circle cx="403.59" cy="294.84" r="0.85" fill="#c9c6cc"/>
<circle cx="306.39" cy="294.14" r="0.85" fill="#c9c6cc"/>
<circle cx="406.71" cy="293.26" r="0.85" fill="#c9c6cc"/>
<circle cx="317.96" cy="290.75" r="0.85" fill="#c9c6cc"/>
<circle cx="311.54" cy="291.05" r="0.85" fill="#c9c6cc"/>
<circle cx="407.75" cy="295.19" r="0.85" fill="#c9c6cc"/>
<circle cx="313.40" cy="292.49" r="0.85" fill="#c9c6cc"/>
<circle cx="310.98" cy="293.79" r="0.85" fill="#c9c6cc"/>
<circle cx="310.55" cy="294.92" r="0.85" fill="#c9c6cc"/>
<circle cx="427.86" cy="291.35" r="0.85" fill="#c9c6cc"/>
<circle cx="316.56" cy="293.43" r="0.85" fill="#c9c6cc"/>
<circle cx="316.03" cy="293.39" r="0.85" fill="#c9c6cc"/>
<circle cx="418.80" cy="291.26" r="0.85" fill="#c9c6cc"/>
<circle cx="313.66" cy="296.81" r="0.85" fill="#c9c6cc"/>
<circle cx="309.81" cy="291.88" r="0.85" fill="#c9c6cc"/>
<circle cx="428.69" cy="293.56" r="0.85" fill="#c9c6cc"/>
<circle cx="405.58" cy="291.72" r="0.85" fill="#c9c6cc"/>
<circle cx="408.14" cy="293.67" r="0.85" fill="#c9c6cc"/>
<circle cx="423.05" cy="291.54" r="0.85" fill="#c9c6cc"/>
<circle cx="311.14" cy="292.34" r="0.85" fill="#c9c6cc"/>
<circle cx="308.80" cy="292.58" r="0.85" fill="#c9c6cc"/>
<circle cx="314.71" cy="291.92" r="0.85" fill="#c9c6cc"/>
<circle cx="407.59" cy="293.56" r="0.85" fill="#c9c6cc"/>
<circle cx="305.40" cy="297.62" r="0.85" fill="#c9c6cc"/>
<circle cx="310.51" cy="296.45" r="0.85" fill="#c9c6cc"/>
<circle cx="425.48" cy="294.37" r="0.85" fill="#c9c6cc"/>
<circle cx="430.76" cy="290.22" r="0.85" fill="#c9c6cc"/>
<circle cx="314.66" cy="293.39" r="0.85" fill="#c9c6cc"/>
<circle cx="309.14" cy="291.74" r="0.85" fill="#c9c6cc"/>
<circle cx="315.37" cy="291.33" r="0.85" fill="#c9c6cc"/>
<circle cx="306.85" cy="292.68" r="0.85" fill="#c9c6cc"/>
<circle cx="403.51" cy="294.72" r="0.85" fill="#c9c6cc"/>
<circle cx="311.71" cy="296.15" r="0.85" fill="#c9c6cc"/>
<circle cx="414.58" cy="291.13" r="0.85" fill="#c9c6cc"/>
<circle cx="312.63" cy="292.45" r="0.85" fill="#c9c6cc"/>
<circle cx="427.03" cy="292.78" r="0.85" fill="#c9c6cc"/>
<circle cx="405.56" cy="293.46" r="0.85" fill="#c9c6cc"/>
<circle cx="305.67" cy="295.80" r="0.85" fill="#c9c6cc"/>
<circle cx="403.71" cy="294.62" r="0.85" fill="#c9c6cc"/>
<circle cx="402.43" cy="296.12" r="0.85" fill="#c9c6cc"/>
<circle cx="310.81" cy="296.88" r="0.85" fill="#c9c6cc"/>
<circle cx="411.34" cy="294.27" r="0.85" fill="#c9c6cc"/>
<circle cx="306.42" cy="292.28" r="0.85" fill="#c9c6cc"/>
<circle cx="409.36" cy="293.13" r="0.85" fill="#c9c6cc"/>
<circle cx="314.82" cy="296.51" r="0.85" fill="#c9c6cc"/>
<circle cx="313.06" cy="293.04" r="0.85" fill="#c9c6cc"/>
<circle cx="306.30" cy="292.24" r="0.85" fill="#c9c6cc"/>
<circle cx="312.98" cy="290.35" r="0.85" fill="#c9c6cc"/>
<circle cx="407.35" cy="290.25" r="0.85" fill="#c9c6cc"/>
<circle cx="306.68" cy="289.54" r="0.85" fill="#c9c6cc"/>
<circle cx="314.39" cy="293.82" r="0.85" fill="#c9c6cc"/>
<circle cx="412.20" cy="291.60" r="0.85" fill="#c9c6cc"/>
<circle cx="310.47" cy="294.05" r="0.85" fill="#c9c6cc"/>
<circle cx="449.75" cy="295.20" r="0.85" fill="#c9c6cc"/>
<circle cx="403.50" cy="295.57" r="0.85" fill="#c9c6cc"/>
<circle cx="411.08" cy="292.97" r="0.85" fill="#c9c6cc"/>
<circle cx="415.43" cy="289.83" r="0.85" fill="#c9c6cc"/>
<circle cx="405.16" cy="294.51" r="0.85" fill="#c9c6cc"/>
<circle cx="402.78" cy="294.90" r="0.85" fill="#c9c6cc"/>
<circle cx="308.42" cy="291.96" r="0.85" fill="#c9c6cc"/>
<circle cx="426.77" cy="291.23" r="0.85" fill="#c9c6cc"/>
<circle cx="431.42" cy="293.32" r="0.85" fill="#c9c6cc"/>
<circle cx="402.05" cy="294.33" r="0.85" fill="#c9c6cc"/>
<circle cx="417.75" cy="292.76" r="0.85" fill="#c9c6cc"/>
<circle cx="312.94" cy="295.08" r="0.85" fill="#c9c6cc"/>
<circle cx="416.14" cy="294.69" r="0.85" fill="#c9c6cc"/>
<circle cx="312.94" cy="290.75" r="0.85" fill="#c9c6cc"/>
<circle cx="421.86" cy="294.74" r="0.85" fill="#c9c6cc"/>
<circle cx="305.17" cy="292.55" r="0.85" fill="#c9c6cc"/>
<circle cx="416.80" cy="293.06" r="0.85" fill="#c9c6cc"/>
<circle cx="414.19" cy="292.72" r="0.85" fill="#c9c6cc"/>
<circle cx="440.53" cy="293.37" r="0.85" fill="#c9c6cc"/>
<circle cx="413.23" cy="294.32" r="0.85" fill="#c9c6cc"/>
<circle cx="407.20" cy="292.50" r="0.85" fill="#c9c6cc"/>
<circle cx="406.27" cy="292.97" r="0.85" fill="#c9c6cc"/>
<circle cx="310.86" cy="295.66" r="0.85" fill="#c9c6cc"/>
<circle cx="410.15" cy="293.63" r="0.85" fill="#c9c6cc"/>
<circle cx="311.07" cy="290.87" r="0.85" fill="#c9c6cc"/>
<circle cx="316.89" cy="297.34" r="0.85" fill="#c9c6cc"/>
<circle cx="316.06" cy="290.65" r="0.85" fill="#c9c6cc"/>
<circle cx="426.35" cy="292.60" r="0.85" fill="#c9c6cc"/>
<circle cx="405.94" cy="292.76" r="0.85" fill="#c9c6cc"/>
<circle cx="312.72" cy="290.75" r="0.85" fill="#c9c6cc"/>
<circle cx="458.36" cy="291.84" r="0.85" fill="#c9c6cc"/>
<circle cx="405.09" cy="292.19" r="0.85" fill="#c9c6cc"/>
<circle cx="409.45" cy="292.33" r="0.85" fill="#c9c6cc"/>
<circle cx="406.78" cy="291.23" r="0.85" fill="#c9c6cc"/>
<circle cx="306.94" cy="292.20" r="0.85" fill="#c9c6cc"/>
<circle cx="308.66" cy="292.66" r="0.85" fill="#c9c6cc"/>
<circle cx="404.93" cy="292.09" r="0.85" fill="#c9c6cc"/>
<circle cx="316.76" cy="295.62" r="0.85" fill="#c9c6cc"/>
<circle cx="308.46" cy="293.88" r="0.85" fill="#c9c6cc"/>
<circle cx="455.70" cy="293.05" r="0.85" fill="#c9c6cc"/>
<circle cx="315.49" cy="294.97" r="0.85" fill="#c9c6cc"/>
<circle cx="425.80" cy="291.91" r="0.85" fill="#c9c6cc"/>
<circle cx="408.40" cy="293.02" r="0.85" fill="#c9c6cc"/>
<circle cx="427.31" cy="291.49" r="0.85" fill="#c9c6cc"/>
<circle cx="308.12" cy="294.60" r="0.85" fill="#c9c6cc"/>
<circle cx="403.82" cy="295.30" r="0.85" fill="#c9c6cc"/>
<circle cx="313.98" cy="292.15" r="0.85" fill="#c9c6cc"/>
<circle cx="313.83" cy="295.07" r="0.85" fill="#c9c6cc"/>
<circle cx="422.48" cy="294.36" r="0.85" fill="#c9c6cc"/>
<circle cx="315.41" cy="294.85" r="0.85" fill="#c9c6cc"/>
<circle cx="414.16" cy="293.47" r="0.85" fill="#c9c6cc"/>
<circle cx="451.07" cy="294.12" r="0.85" fill="#c9c6cc"/>
<circle cx="316.65" cy="291.19" r="0.85" fill="#c9c6cc"/>
<circle cx="406.80" cy="291.99" r="0.85" fill="#c9c6cc"/>
<circle cx="406.08" cy="291.24" r="0.85" fill="#c9c6cc"/>
<circle cx="413.38" cy="294.39" r="0.85" fill="#c9c6cc"/>
<circle cx="315.38" cy="291.02" r="0.85" fill="#c9c6cc"/>
<circle cx="416.35" cy="290.62" r="0.85" fill="#c9c6cc"/>
<circle cx="308.29" cy="294.86" r="0.85" fill="#c9c6cc"/>
<circle cx="313.74" cy="292.37" r="0.85" fill="#c9c6cc"/>
<circle cx="402.18" cy="291.50" r="0.85" fill="#c9c6cc"/>
<circle cx="402.03" cy="294.10" r="0.85" fill="#c9c6cc"/>
<circle cx="407.84" cy="294.71" r="0.85" fill="#c9c6cc"/>
<circle cx="312.67" cy="295.03" r="0.85" fill="#c9c6cc"/>
<circle cx="451.32" cy="292.79" r="0.85" fill="#c9c6cc"/>
<circle cx="445.70" cy="292.37" r="0.85" fill="#c9c6cc"/>
<circle cx="411.11" cy="296.70" r="0.85" fill="#c9c6cc"/>
<circle cx="421.01" cy="293.99" r="0.85" fill="#c9c6cc"/>
<circle cx="436.48" cy="292.81" r="0.85" fill="#c9c6cc"/>
<circle cx="410.31" cy="294.29" r="0.85" fill="#c9c6cc"/>
<circle cx="442.58" cy="295.15" r="0.85" fill="#c9c6cc"/>
<circle cx="434.13" cy="293.47" r="0.85" fill="#c9c6cc"/>
<circle cx="312.58" cy="294.82" r="0.85" fill="#c9c6cc"/>
<circle cx="409.36" cy="292.68" r="0.85" fill="#c9c6cc"/>
<circle cx="430.56" cy="291.94" r="0.85" fill="#c9c6cc"/>
<circle cx="415.40" cy="296.70" r="0.85" fill="#c9c6cc"/>
<circle cx="417.07" cy="295.06" r="0.85" fill="#c9c6cc"/>
<circle cx="404.94" cy="293.13" r="0.85" fill="#c9c6cc"/>
<circle cx="313.07" cy="292.12" r="0.85" fill="#c9c6cc"/>
<circle cx="412.96" cy="295.11" r="0.85" fill="#c9c6cc"/>
<circle cx="421.76" cy="294.17" r="0.85" fill="#c9c6cc"/>
<circle cx="402.26" cy="294.53" r="0.85" fill="#c9c6cc"/>
<circle cx="313.86" cy="296.38" r="0.85" fill="#c9c6cc"/>
<circle cx="407.45" cy="295.58" r="0.85" fill="#c9c6cc"/>
<circle cx="306.40" cy="293.75" r="0.85" fill="#c9c6cc"/>
<circle cx="406.56" cy="294.85" r="0.85" fill="#c9c6cc"/>
<circle cx="314.95" cy="292.62" r="0.85" fill="#c9c6cc"/>
<circle cx="406.75" cy="292.20" r="0.85" fill="#c9c6cc"/>
<circle cx="315.65" cy="292.91" r="0.85" fill="#c9c6cc"/>
<circle cx="311.81" cy="290.71" r="0.85" fill="#c9c6cc"/>
<circle cx="308.67" cy="296.90" r="0.85" fill="#c9c6cc"/>
<circle cx="405.09" cy="293.13" r="0.85" fill="#c9c6cc"/>
<circle cx="405.76" cy="295.19" r="0.85" fill="#c9c6cc"/>
<circle cx="412.35" cy="292.01" r="0.85" fill="#c9c6cc"/>
<circle cx="412.98" cy="293.21" r="0.85" fill="#c9c6cc"/>
<circle cx="431.37" cy="295.16" r="0.85" fill="#c9c6cc"/>
<circle cx="350.10" cy="285.02" r="0.85" fill="#c9c6cc"/>
<circle cx="366.52" cy="271.00" r="0.85" fill="#c9c6cc"/>
<circle cx="340.95" cy="332.93" r="0.85" fill="#c9c6cc"/>
<circle cx="361.58" cy="295.23" r="0.85" fill="#c9c6cc"/>
<circle cx="344.55" cy="307.34" r="0.85" fill="#c9c6cc"/>
<circle cx="372.13" cy="311.68" r="0.85" fill="#c9c6cc"/>
<circle cx="364.00" cy="235.88" r="0.85" fill="#c9c6cc"/>
<circle cx="385.14" cy="270.07" r="0.85" fill="#c9c6cc"/>
<circle cx="373.64" cy="305.48" r="0.85" fill="#c9c6cc"/>
<circle cx="356.38" cy="295.64" r="0.85" fill="#c9c6cc"/>
<circle cx="362.47" cy="271.30" r="0.85" fill="#c9c6cc"/>
<circle cx="364.49" cy="252.23" r="0.85" fill="#c9c6cc"/>
<circle cx="358.46" cy="318.98" r="0.85" fill="#c9c6cc"/>
<circle cx="349.98" cy="299.21" r="0.85" fill="#c9c6cc"/>
<circle cx="376.70" cy="295.62" r="0.85" fill="#c9c6cc"/>
<circle cx="361.69" cy="314.76" r="0.85" fill="#c9c6cc"/>
<circle cx="366.07" cy="248.62" r="0.85" fill="#c9c6cc"/>
<circle cx="356.96" cy="296.83" r="0.85" fill="#c9c6cc"/>
<circle cx="361.06" cy="271.70" r="0.85" fill="#c9c6cc"/>
<circle cx="381.59" cy="321.11" r="0.85" fill="#c9c6cc"/>
<circle cx="370.19" cy="281.45" r="0.85" fill="#c9c6cc"/>
<circle cx="327.87" cy="277.16" r="0.85" fill="#c9c6cc"/>
<circle cx="345.29" cy="290.29" r="0.85" fill="#c9c6cc"/>
<circle cx="362.11" cy="299.01" r="0.85" fill="#c9c6cc"/>
<circle cx="382.74" cy="261.33" r="0.85" fill="#c9c6cc"/>
<circle cx="369.59" cy="330.16" r="0.85" fill="#c9c6cc"/>
<circle cx="369.41" cy="336.91" r="0.85" fill="#c9c6cc"/>
<circle cx="342.38" cy="323.78" r="0.85" fill="#c9c6cc"/>
<circle cx="353.52" cy="291.01" r="0.85" fill="#c9c6cc"/>
<circle cx="338.86" cy="276.30" r="0.85" fill="#c9c6cc"/>
<line x1="359.00" y1="224.00" x2="359.00" y2="362.50" stroke="#62b8dc" stroke-width="1.25"/>
<line x1="278.00" y1="293.40" x2="478.00" y2="293.40" stroke="#62b8dc" stroke-width="1.15"/>
<circle cx="290.90" cy="276.10" r="1.2" fill="#1e1e1e"/>
<circle cx="299.50" cy="281.90" r="1.2" fill="#1e1e1e"/>
<circle cx="393.10" cy="274.60" r="1.2" fill="#1e1e1e"/>
<circle cx="467.10" cy="285.60" r="1.2" fill="#1e1e1e"/>
<circle cx="432.00" cy="307.70" r="1.2" fill="#1e1e1e"/>
<text x="281.00" y="269.10" font-size="7.5" font-style="italic" textLength="23.90" lengthAdjust="spacingAndGlyphs">FKBP5</text>
<text x="301.90" y="278.60" font-size="7.5" font-style="italic" textLength="27.60" lengthAdjust="spacingAndGlyphs">NFKBIA</text>
<text x="404.00" y="265.00" font-size="7.5" font-style="italic" textLength="21.80" lengthAdjust="spacingAndGlyphs">DDIT4</text>
<text x="457.90" y="281.90" font-size="7.5" font-style="italic" textLength="25.10" lengthAdjust="spacingAndGlyphs">NR3C1</text>
<text x="421.50" y="317.70" font-size="7.5" font-style="italic" textLength="20.00" lengthAdjust="spacingAndGlyphs">BCL6</text>
<line x1="278.00" y1="225.30" x2="278.00" y2="361.80" stroke="#2e2e2e" stroke-width="1.3"/>
<line x1="277.40" y1="361.20" x2="448.80" y2="361.20" stroke="#2e2e2e" stroke-width="1.3"/>
<line x1="453.20" y1="361.20" x2="484.60" y2="361.20" stroke="#2e2e2e" stroke-width="1.3"/>
<line x1="446.80" y1="363.60" x2="450.40" y2="358.60" stroke="#2e2e2e" stroke-width="0.8"/>
<line x1="450.40" y1="363.60" x2="454.00" y2="358.60" stroke="#2e2e2e" stroke-width="0.8"/>
<line x1="275.30" y1="258.50" x2="278.00" y2="258.50" stroke="#2e2e2e" stroke-width="0.9"/>
<text x="272.30" y="261.10" font-size="7.5" text-anchor="end">4</text>
<line x1="275.30" y1="293.50" x2="278.00" y2="293.50" stroke="#2e2e2e" stroke-width="0.9"/>
<text x="272.30" y="296.10" font-size="7.5" text-anchor="end">0</text>
<line x1="275.30" y1="328.60" x2="278.00" y2="328.60" stroke="#2e2e2e" stroke-width="0.9"/>
<text x="272.30" y="331.20" font-size="7.5" text-anchor="end">−4</text>
<line x1="358.70" y1="361.20" x2="358.70" y2="363.60" stroke="#2e2e2e" stroke-width="0.9"/>
<text x="358.70" y="373.60" font-size="7.5" text-anchor="middle">0</text>
<line x1="441.30" y1="361.20" x2="441.30" y2="363.60" stroke="#2e2e2e" stroke-width="0.9"/>
<text x="441.30" y="373.60" font-size="7.5" text-anchor="middle">10</text>
<line x1="453.80" y1="361.20" x2="453.80" y2="363.60" stroke="#2e2e2e" stroke-width="0.9"/>
<text x="453.80" y="373.60" font-size="7.5" text-anchor="middle">20</text>
<text x="381.00" y="386.00" font-size="8.4" text-anchor="middle" class="cd" textLength="143.70" lengthAdjust="spacingAndGlyphs">Brunello screening normalized Z-score (dex/DMSO)</text>
<text class="cd" x="0" y="0" font-size="8" transform="translate(254.9 334.7) rotate(-90)" textLength="82.3" lengthAdjust="spacingAndGlyphs">RNA-seq log<tspan font-size="5.4" dy="1.6">2</tspan><tspan dy="-1.6">FC (</tspan><tspan font-style="italic">dex</tspan>/DMSO)</text>
<circle cx="432.00" cy="336.60" r="1.6" fill="#3a3a3a"/>
<text x="436.90" y="339.00" font-size="6.75" textLength="31.10" lengthAdjust="spacingAndGlyphs">Significant</text>
<circle cx="432.00" cy="344.60" r="1.6" fill="#c8c8c8"/>
<text x="436.90" y="347.00" font-size="6.75" textLength="44.60" lengthAdjust="spacingAndGlyphs">Non-significant</text>

</g>
<rect x="0.5" y="0.5" width="519" height="394" fill="none" stroke="#646464" stroke-width="1"/>
</svg></body></html>
